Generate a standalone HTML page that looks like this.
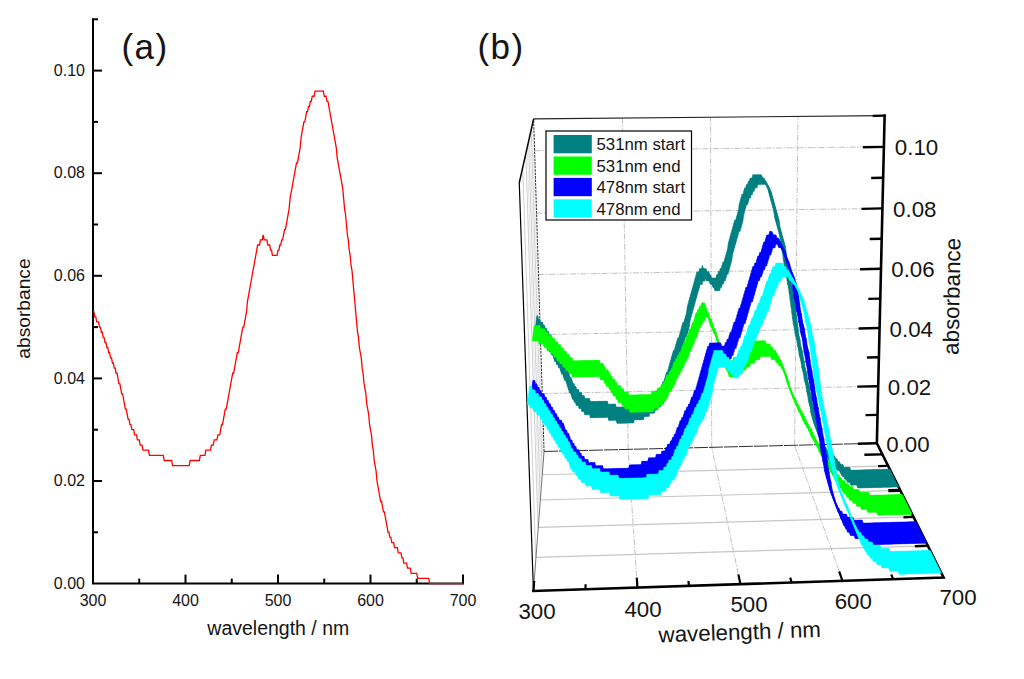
<!DOCTYPE html>
<html><head><meta charset="utf-8"><title>absorbance</title><style>html,body{margin:0;padding:0;background:#fff}body{width:1024px;height:679px;overflow:hidden}</style></head><body>
<svg width="1024" height="679" viewBox="0 0 1024 679" style="display:block" font-family="'Liberation Sans', sans-serif" fill="#111">
<rect width="1024" height="679" fill="#fff"/>
<g stroke="#000" stroke-width="2" fill="none" stroke-linecap="butt">
<path d="M93 18.3 V583.6 H464"/>
<path d="M93 532.3h5"/>
<path d="M93 481h9"/>
<path d="M93 429.7h5"/>
<path d="M93 378.4h9"/>
<path d="M93 327.1h5"/>
<path d="M93 275.8h9"/>
<path d="M93 224.5h5"/>
<path d="M93 173.2h9"/>
<path d="M93 121.9h5"/>
<path d="M93 70.6h9"/>
<path d="M93 19.3h5"/>
<path d="M139.25 583.6v-5"/>
<path d="M185.5 583.6v-9"/>
<path d="M231.75 583.6v-5"/>
<path d="M278 583.6v-9"/>
<path d="M324.25 583.6v-5"/>
<path d="M370.5 583.6v-9"/>
<path d="M416.75 583.6v-5"/>
<path d="M463 583.6v-9"/>
</g>
<g font-size="16" fill="#141414">
<text x="85" y="588.8" text-anchor="end">0.00</text>
<text x="85" y="486.2" text-anchor="end">0.02</text>
<text x="85" y="383.6" text-anchor="end">0.04</text>
<text x="85" y="281" text-anchor="end">0.06</text>
<text x="85" y="178.4" text-anchor="end">0.08</text>
<text x="85" y="75.8" text-anchor="end">0.10</text>
<text x="93" y="605.8" text-anchor="middle">300</text>
<text x="185.5" y="605.8" text-anchor="middle">400</text>
<text x="278" y="605.8" text-anchor="middle">500</text>
<text x="370.5" y="605.8" text-anchor="middle">600</text>
<text x="463" y="605.8" text-anchor="middle">700</text>
</g>
<text x="278.3" y="635.3" font-size="19.5" text-anchor="middle" fill="#141414">wavelength / nm</text>
<text transform="translate(29.5 308.5) rotate(-90)" font-size="19.2" text-anchor="middle" fill="#141414">absorbance</text>
<text x="121.5" y="58.7" font-size="35" letter-spacing="1.4" fill="#141414">(a)</text>
<text x="477.5" y="58.7" font-size="35" letter-spacing="1.4" fill="#141414">(b)</text>
<path d="M93 311.71L93.92 311.71L94.85 316.84L95.78 316.84L96.7 321.97L97.62 321.97L98.55 321.97L99.47 327.1L100.4 327.1L101.33 332.23L102.25 332.23L103.17 337.36L104.1 337.36L105.03 342.49L105.95 342.49L106.88 347.62L107.8 347.62L108.72 352.75L109.65 352.75L110.58 357.88L111.5 357.88L112.42 363.01L113.35 363.01L114.28 368.14L115.2 368.14L116.12 373.27L117.05 373.27L117.97 378.4L118.9 383.53L119.83 383.53L120.75 388.66L121.67 393.79L122.6 393.79L123.53 398.92L124.45 404.05L125.38 409.18L126.3 409.18L127.22 414.31L128.15 419.44L129.07 419.44L130 424.57L130.93 424.57L131.85 429.7L132.78 429.7L133.7 429.7L134.62 434.83L135.55 434.83L136.47 434.83L137.4 439.96L138.32 439.96L139.25 439.96L140.18 445.09L141.1 445.09L142.03 445.09L142.95 450.22L143.88 450.22L144.8 450.22L145.72 450.22L146.65 450.22L147.57 450.22L148.5 450.22L149.43 455.35L150.35 455.35L151.28 455.35L152.2 455.35L153.12 455.35L154.05 455.35L154.97 455.35L155.9 455.35L156.82 455.35L157.75 455.35L158.68 455.35L159.6 455.35L160.53 455.35L161.45 455.35L162.38 455.35L163.3 455.35L164.23 460.48L165.15 460.48L166.07 460.48L167 460.48L167.93 460.48L168.85 460.48L169.78 460.48L170.7 460.48L171.62 460.48L172.55 465.61L173.48 465.61L174.4 465.61L175.32 465.61L176.25 465.61L177.18 465.61L178.1 465.61L179.03 465.61L179.95 465.61L180.88 465.61L181.8 465.61L182.73 465.61L183.65 465.61L184.57 465.61L185.5 465.61L186.43 465.61L187.35 465.61L188.28 465.61L189.2 465.61L190.12 460.48L191.05 460.48L191.98 460.48L192.9 460.48L193.82 460.48L194.75 460.48L195.68 460.48L196.6 460.48L197.53 460.48L198.45 460.48L199.38 460.48L200.3 455.35L201.23 455.35L202.15 455.35L203.07 455.35L204 455.35L204.93 455.35L205.85 450.22L206.78 450.22L207.7 450.22L208.62 450.22L209.55 450.22L210.48 450.22L211.4 445.09L212.32 445.09L213.25 445.09L214.18 439.96L215.1 439.96L216.03 439.96L216.95 439.96L217.88 434.83L218.8 434.83L219.73 434.83L220.65 429.7L221.58 424.57L222.5 424.57L223.43 419.44L224.35 414.31L225.28 409.18L226.2 409.18L227.12 404.05L228.05 398.92L228.97 393.79L229.9 388.66L230.83 383.53L231.75 378.4L232.68 373.27L233.6 373.27L234.53 368.14L235.45 363.01L236.38 357.88L237.3 352.75L238.22 352.75L239.15 347.62L240.08 342.49L241 337.36L241.93 332.23L242.85 327.1L243.78 327.1L244.7 321.97L245.62 316.84L246.55 311.71L247.47 301.45L248.4 296.32L249.33 291.19L250.25 286.06L251.18 280.93L252.1 275.8L253.03 270.67L253.95 265.54L254.88 260.41L255.8 255.28L256.73 250.15L257.65 245.02L258.58 245.02L259.5 245.02L260.43 239.89L261.35 239.89L262.27 239.89L263.2 234.76L264.12 239.89L265.05 239.89L265.98 239.89L266.9 239.89L267.83 245.02L268.75 245.02L269.68 245.02L270.6 250.15L271.52 250.15L272.45 255.28L273.38 255.28L274.3 255.28L275.23 255.28L276.15 255.28L277.08 255.28L278 250.15L278.93 250.15L279.85 245.02L280.77 245.02L281.7 239.89L282.62 239.89L283.55 234.76L284.48 229.63L285.4 229.63L286.33 224.5L287.25 219.37L288.18 214.24L289.1 209.11L290.02 198.85L290.95 193.72L291.88 188.59L292.8 183.46L293.73 178.33L294.65 173.2L295.58 168.07L296.5 162.94L297.43 162.94L298.35 157.81L299.27 152.68L300.2 147.55L301.12 137.29L302.05 132.16L302.98 127.03L303.9 121.9L304.83 121.9L305.75 116.77L306.68 111.64L307.6 111.64L308.52 106.51L309.45 106.51L310.38 101.38L311.3 101.38L312.23 96.25L313.15 96.25L314.08 96.25L315 91.12L315.93 91.12L316.85 91.12L317.77 91.12L318.7 91.12L319.62 91.12L320.55 91.12L321.48 91.12L322.4 91.12L323.33 91.12L324.25 96.25L325.18 96.25L326.1 96.25L327.02 101.38L327.95 101.38L328.88 106.51L329.8 111.64L330.73 116.77L331.65 121.9L332.58 127.03L333.5 132.16L334.43 137.29L335.35 142.42L336.27 147.55L337.2 157.81L338.12 162.94L339.05 168.07L339.98 173.2L340.9 178.33L341.83 183.46L342.75 188.59L343.68 198.85L344.6 209.11L345.52 214.24L346.45 224.5L347.38 234.76L348.3 239.89L349.23 250.15L350.15 255.28L351.07 265.54L352 270.67L352.93 280.93L353.85 291.19L354.78 301.45L355.7 311.71L356.62 321.97L357.55 332.23L358.48 337.36L359.4 347.62L360.32 352.75L361.25 357.88L362.18 368.14L363.1 373.27L364.03 383.53L364.95 388.66L365.88 393.79L366.8 404.05L367.73 409.18L368.65 414.31L369.57 424.57L370.5 429.7L371.43 434.83L372.35 445.09L373.28 450.22L374.2 460.48L375.12 465.61L376.05 470.74L376.98 481L377.9 486.13L378.82 491.26L379.75 496.39L380.68 501.52L381.6 501.52L382.53 506.65L383.45 511.78L384.38 511.78L385.3 516.91L386.23 522.04L387.15 527.17L388.07 532.3L389 532.3L389.93 537.43L390.85 537.43L391.78 542.56L392.7 542.56L393.62 542.56L394.55 547.69L395.48 547.69L396.4 547.69L397.32 547.69L398.25 552.82L399.18 552.82L400.1 552.82L401.03 552.82L401.95 557.95L402.88 557.95L403.8 563.08L404.73 563.08L405.65 563.08L406.57 563.08L407.5 568.21L408.43 568.21L409.35 568.21L410.28 568.21L411.2 573.34L412.12 573.34L413.05 573.34L413.98 573.34L414.9 573.34L415.82 573.34L416.75 573.34L417.68 578.47L418.6 578.47L419.53 578.47L420.45 578.47L421.38 578.47L422.3 578.47L423.23 578.47L424.15 578.47L425.07 578.47L426 578.47L426.93 578.47L427.85 578.47L428.78 578.47L429.7 583.6L430.62 583.6L431.55 583.6L432.48 583.6L433.4 583.6L434.32 583.6L435.25 583.6L436.18 583.6L437.1 583.6L438.03 583.6L438.95 583.6L439.88 583.6L440.8 583.6L441.73 583.6L442.65 583.6L443.57 583.6L444.5 583.6L445.43 583.6L446.35 583.6L447.28 583.6L448.2 583.6L449.12 583.6L450.05 583.6L450.98 583.6L451.9 583.6L452.83 583.6L453.75 583.6L454.68 583.6L455.6 583.6L456.53 583.6L457.45 583.6L458.38 583.6L459.3 583.6L460.23 583.6L461.15 583.6L462.08 583.6L463 583.6" fill="none" stroke="#ff0000" stroke-width="1.3" stroke-linejoin="miter"/>
<line x1="628.21" y1="449.39" x2="622.42" y2="118.07" stroke="#c2c2c2" stroke-width="1"  stroke-dasharray="6 1.5 1.5 1.5"/>
<line x1="711.73" y1="447.33" x2="710.53" y2="117.23" stroke="#c2c2c2" stroke-width="1"  stroke-dasharray="6 1.5 1.5 1.5"/>
<line x1="794.61" y1="445.28" x2="797.93" y2="116.4" stroke="#c2c2c2" stroke-width="1"  stroke-dasharray="6 1.5 1.5 1.5"/>
<line x1="542.23" y1="393.61" x2="878.21" y2="386.21" stroke="#c2c2c2" stroke-width="1"  stroke-dasharray="6 1.5 1.5 1.5"/>
<line x1="540.38" y1="334.64" x2="879.59" y2="328.07" stroke="#c2c2c2" stroke-width="1"  stroke-dasharray="6 1.5 1.5 1.5"/>
<line x1="538.49" y1="274.51" x2="881" y2="268.82" stroke="#c2c2c2" stroke-width="1"  stroke-dasharray="6 1.5 1.5 1.5"/>
<line x1="536.56" y1="213.19" x2="882.43" y2="208.42" stroke="#c2c2c2" stroke-width="1"  stroke-dasharray="6 1.5 1.5 1.5"/>
<line x1="534.6" y1="150.66" x2="883.89" y2="146.83" stroke="#c2c2c2" stroke-width="1"  stroke-dasharray="6 1.5 1.5 1.5"/>
<line x1="637.2" y1="586.92" x2="628.21" y2="449.39" stroke="#c2c2c2" stroke-width="1"  stroke-dasharray="6 1.5 1.5 1.5"/>
<line x1="740.29" y1="583.73" x2="711.73" y2="447.33" stroke="#c2c2c2" stroke-width="1"  stroke-dasharray="6 1.5 1.5 1.5"/>
<line x1="842.42" y1="580.57" x2="794.61" y2="445.28" stroke="#c2c2c2" stroke-width="1"  stroke-dasharray="6 1.5 1.5 1.5"/>
<line x1="535.71" y1="557.38" x2="927.87" y2="545.82" stroke="#c6c6c6" stroke-width="1.2" />
<line x1="538.07" y1="527.46" x2="913.49" y2="516.91" stroke="#c6c6c6" stroke-width="1.2" />
<line x1="540.23" y1="500.02" x2="900.28" y2="490.35" stroke="#c6c6c6" stroke-width="1.2" />
<line x1="542.22" y1="474.77" x2="888.11" y2="465.88" stroke="#c6c6c6" stroke-width="1.2" />
<line x1="535.71" y1="557.38" x2="522.69" y2="167.61" stroke="#bcbcbc" stroke-width="0.7" />
<line x1="538.07" y1="527.46" x2="525.79" y2="153.76" stroke="#bcbcbc" stroke-width="0.7" />
<line x1="540.23" y1="500.02" x2="528.62" y2="141.12" stroke="#bcbcbc" stroke-width="0.7" />
<line x1="542.22" y1="474.77" x2="531.22" y2="129.55" stroke="#bcbcbc" stroke-width="0.7" />
<line x1="539.17" y1="513.45" x2="527.24" y2="147.3" stroke="#d6d6d6" stroke-width="0.6" />
<line x1="541.24" y1="487.14" x2="529.95" y2="135.21" stroke="#d6d6d6" stroke-width="0.6" />
<line x1="543.15" y1="462.89" x2="532.43" y2="124.13" stroke="#d6d6d6" stroke-width="0.6" />
<line x1="533.6" y1="118.92" x2="884.63" y2="115.58" stroke="#222" stroke-width="1.1" />
<line x1="544.05" y1="451.46" x2="876.86" y2="443.25" stroke="#303030" stroke-width="1.0" stroke-dasharray="14 1"/>
<line x1="544.05" y1="451.46" x2="533.6" y2="118.92" stroke="#333" stroke-width="1.0" stroke-dasharray="2.5 1"/>
<line x1="519.27" y1="182.87" x2="533.6" y2="118.92" stroke="#000" stroke-width="1.5" />
<line x1="533.43" y1="590.99" x2="519.27" y2="182.87" stroke="#000" stroke-width="1.2" />
<line x1="533.43" y1="590.99" x2="544.05" y2="451.46" stroke="#555" stroke-width="0.8" />
<path d="M533.43 590.99L943.59 577.43L876.86 443.25L884.63 115.58" fill="none" stroke="#000" stroke-width="2.6" stroke-linejoin="miter" stroke-linecap="square"/>
<line x1="877.53" y1="414.86" x2="865.53" y2="415.13" stroke="#000" stroke-width="2.4" />
<line x1="878.21" y1="386.21" x2="857.21" y2="386.67" stroke="#000" stroke-width="2.4" />
<line x1="878.9" y1="357.28" x2="866.9" y2="357.54" stroke="#000" stroke-width="2.4" />
<line x1="879.59" y1="328.07" x2="858.59" y2="328.54" stroke="#000" stroke-width="2.4" />
<line x1="880.29" y1="298.59" x2="868.29" y2="298.85" stroke="#000" stroke-width="2.4" />
<line x1="881" y1="268.82" x2="860" y2="269.28" stroke="#000" stroke-width="2.4" />
<line x1="881.71" y1="238.77" x2="869.71" y2="239.03" stroke="#000" stroke-width="2.4" />
<line x1="882.43" y1="208.42" x2="861.43" y2="208.88" stroke="#000" stroke-width="2.4" />
<line x1="883.15" y1="177.77" x2="871.15" y2="178.04" stroke="#000" stroke-width="2.4" />
<line x1="883.89" y1="146.83" x2="862.89" y2="147.29" stroke="#000" stroke-width="2.4" />
<line x1="884.63" y1="115.58" x2="872.63" y2="115.84" stroke="#000" stroke-width="2.4" />
<line x1="533.43" y1="590.99" x2="534.19" y2="581.02" stroke="#000" stroke-width="2.2" />
<line x1="585.55" y1="589.27" x2="585.58" y2="584.27" stroke="#000" stroke-width="2.2" />
<line x1="637.43" y1="587.56" x2="636.76" y2="577.58" stroke="#000" stroke-width="2.2" />
<line x1="689.06" y1="585.85" x2="688.37" y2="580.9" stroke="#000" stroke-width="2.2" />
<line x1="740.44" y1="584.15" x2="738.39" y2="574.37" stroke="#000" stroke-width="2.2" />
<line x1="791.59" y1="582.46" x2="790.23" y2="577.65" stroke="#000" stroke-width="2.2" />
<line x1="842.49" y1="580.78" x2="839.16" y2="571.35" stroke="#000" stroke-width="2.2" />
<line x1="893.16" y1="579.1" x2="891.2" y2="574.5" stroke="#000" stroke-width="2.2" />
<line x1="876.86" y1="443.25" x2="857.86" y2="443.72" stroke="#000" stroke-width="2.4" />
<line x1="882.38" y1="454.35" x2="864.38" y2="454.8" stroke="#000" stroke-width="2.4" />
<line x1="888.11" y1="465.88" x2="878.11" y2="466.13" stroke="#000" stroke-width="2.4" />
<line x1="900.28" y1="490.35" x2="888.29" y2="490.67" stroke="#000" stroke-width="3.4" />
<line x1="913.49" y1="516.91" x2="903.49" y2="517.19" stroke="#000" stroke-width="2.4" />
<line x1="927.87" y1="545.82" x2="914.88" y2="546.21" stroke="#000" stroke-width="2.4" />
<path d="M535.12 329.64L536.06 329.63L537.67 315.81L536.76 315.82ZM536.06 329.63L537.1 332.84L538.68 318.93L537.67 315.81ZM537.1 332.84L538.03 332.82L539.58 318.92L538.68 318.93ZM538.03 332.82L539.07 336.04L540.59 322.04L539.58 318.92ZM539.07 336.04L540 336.02L541.5 322.02L540.59 322.04ZM540 336.02L540.94 336L542.4 322.01L541.5 322.02ZM540.94 336L541.97 339.21L543.41 325.13L542.4 322.01ZM541.97 339.21L542.9 339.19L544.31 325.11L543.41 325.13ZM542.9 339.19L543.94 342.39L545.31 328.23L544.31 325.11ZM543.94 342.39L544.87 342.38L546.22 328.21L545.31 328.23ZM544.87 342.38L545.9 345.58L547.22 331.32L546.22 328.21ZM545.9 345.58L546.83 345.56L548.12 331.31L547.22 331.32ZM546.83 345.56L547.86 348.76L549.12 334.42L548.12 331.31ZM547.86 348.76L548.8 348.74L550.02 334.4L549.12 334.42ZM548.8 348.74L549.82 351.93L551.02 337.51L550.02 334.4ZM549.82 351.93L550.75 351.91L551.92 337.49L551.02 337.51ZM550.75 351.91L551.78 355.1L552.92 340.59L551.92 337.49ZM551.78 355.1L552.71 355.08L553.82 340.57L552.92 340.59ZM552.71 355.08L553.73 358.27L554.81 343.67L553.82 340.57ZM553.73 358.27L554.76 361.45L555.81 346.77L554.81 343.67ZM554.76 361.45L555.69 361.43L556.71 346.75L555.81 346.77ZM555.69 361.43L556.71 364.61L557.7 349.84L556.71 346.75ZM556.71 364.61L557.64 364.59L558.6 349.82L557.7 349.84ZM557.64 364.59L558.66 367.77L559.59 352.91L558.6 349.82ZM558.66 367.77L559.58 367.75L560.49 352.89L559.59 352.91ZM559.58 367.75L560.6 370.92L561.48 355.98L560.49 352.89ZM560.6 370.92L561.62 374.08L562.46 359.06L561.48 355.98ZM561.62 374.08L562.55 374.07L563.36 359.04L562.46 359.06ZM562.55 374.07L563.56 377.23L564.35 362.12L563.36 359.04ZM563.56 377.23L564.57 380.39L565.33 365.2L564.35 362.12ZM564.57 380.39L565.5 380.37L566.23 365.18L565.33 365.2ZM565.5 380.37L566.51 383.53L567.21 368.25L566.23 365.18ZM566.51 383.53L567.52 386.68L568.19 371.32L567.21 368.25ZM567.52 386.68L568.53 389.83L569.17 374.38L568.19 371.32ZM568.53 389.83L569.54 392.97L570.15 377.44L569.17 374.38ZM569.54 392.97L570.47 392.95L571.05 377.43L570.15 377.44ZM570.47 392.95L571.47 396.1L572.02 380.48L571.05 377.43ZM571.47 396.1L572.48 399.24L573 383.54L572.02 380.48ZM572.48 399.24L573.4 399.21L573.89 383.52L573 383.54ZM573.4 399.21L574.41 402.35L574.87 386.57L573.89 383.52ZM574.41 402.35L575.33 402.33L575.76 386.55L574.87 386.57ZM575.33 402.33L576.33 405.46L576.74 389.6L575.76 386.55ZM576.33 405.46L577.25 405.44L577.63 389.58L576.74 389.6ZM577.25 405.44L578.17 405.42L578.52 389.56L577.63 389.58ZM578.17 405.42L579.17 408.55L579.49 392.6L578.52 389.56ZM579.17 408.55L580.09 408.53L580.39 392.58L579.49 392.6ZM580.09 408.53L581.01 408.51L581.28 392.57L580.39 392.58ZM581.01 408.51L582.01 411.63L582.25 395.61L581.28 392.57ZM582.01 411.63L582.93 411.61L583.14 395.59L582.25 395.61ZM582.93 411.61L583.85 411.59L584.03 395.57L583.14 395.59ZM583.85 411.59L584.84 414.71L585 398.6L584.03 395.57ZM584.84 414.71L585.76 414.69L585.89 398.58L585 398.6ZM585.76 414.69L586.68 414.66L586.78 398.56L585.89 398.58ZM586.68 414.66L587.6 414.64L587.67 398.54L586.78 398.56ZM587.6 414.64L588.52 414.62L588.56 398.52L587.67 398.54ZM588.52 414.62L589.43 414.6L589.45 398.5L588.56 398.52ZM589.43 414.6L590.43 417.72L590.42 401.54L589.45 398.5ZM590.43 417.72L591.34 417.7L591.31 401.52L590.42 401.54ZM591.34 417.7L592.26 417.68L592.2 401.5L591.31 401.52ZM592.26 417.68L593.18 417.65L593.09 401.48L592.2 401.5ZM593.18 417.65L594.1 417.63L593.98 401.46L593.09 401.48ZM594.1 417.63L595.01 417.61L594.87 401.44L593.98 401.46ZM595.01 417.61L595.93 417.59L595.76 401.42L594.87 401.44ZM595.93 417.59L596.85 417.57L596.65 401.4L595.76 401.42ZM596.85 417.57L597.76 417.55L597.54 401.38L596.65 401.4ZM597.76 417.55L598.68 417.53L598.43 401.36L597.54 401.38ZM598.68 417.53L599.6 417.51L599.32 401.34L598.43 401.36ZM599.6 417.51L600.51 417.48L600.21 401.32L599.32 401.34ZM600.51 417.48L601.43 417.46L601.1 401.3L600.21 401.32ZM601.43 417.46L602.35 417.44L601.99 401.28L601.1 401.3ZM602.35 417.44L603.26 417.42L602.88 401.26L601.99 401.28ZM603.26 417.42L604.18 417.4L603.77 401.24L602.88 401.26ZM604.18 417.4L605.1 417.38L604.66 401.22L603.77 401.24ZM605.1 417.38L606.01 417.36L605.55 401.2L604.66 401.22ZM606.01 417.36L606.93 417.34L606.44 401.18L605.55 401.2ZM606.93 417.34L607.85 417.31L607.33 401.16L606.44 401.18ZM607.85 417.31L608.83 420.42L608.28 404.19L607.33 401.16ZM608.83 420.42L609.74 420.4L609.17 404.17L608.28 404.19ZM609.74 420.4L610.66 420.38L610.05 404.15L609.17 404.17ZM610.66 420.38L611.57 420.36L610.94 404.13L610.05 404.15ZM611.57 420.36L612.49 420.34L611.83 404.11L610.94 404.13ZM612.49 420.34L613.4 420.32L612.72 404.09L611.83 404.11ZM613.4 420.32L614.32 420.3L613.61 404.07L612.72 404.09ZM614.32 420.3L615.23 420.28L614.5 404.05L613.61 404.07ZM615.23 420.28L616.15 420.25L615.38 404.03L614.5 404.05ZM616.15 420.25L617.12 423.36L616.33 407.05L615.38 404.03ZM617.12 423.36L618.04 423.34L617.22 407.03L616.33 407.05ZM618.04 423.34L618.95 423.32L618.11 407.01L617.22 407.03ZM618.95 423.32L619.87 423.3L618.99 406.99L618.11 407.01ZM619.87 423.3L620.78 423.27L619.88 406.97L618.99 406.99ZM620.78 423.27L621.69 423.25L620.77 406.95L619.88 406.97ZM621.69 423.25L622.61 423.23L621.66 406.93L620.77 406.95ZM622.61 423.23L623.52 423.21L622.54 406.91L621.66 406.93ZM623.52 423.21L624.43 423.19L623.43 406.89L622.54 406.91ZM624.43 423.19L625.35 423.17L624.32 406.87L623.43 406.89ZM625.35 423.17L626.26 423.15L625.2 406.85L624.32 406.87ZM626.26 423.15L627.18 423.12L626.09 406.83L625.2 406.85ZM627.18 423.12L628.09 423.1L626.98 406.81L626.09 406.83ZM628.09 423.1L629 423.08L627.86 406.79L626.98 406.81ZM629 423.08L629.92 423.06L628.75 406.77L627.86 406.79ZM629.92 423.06L630.83 423.04L629.64 406.75L628.75 406.77ZM630.83 423.04L631.74 423.02L630.52 406.73L629.64 406.75ZM631.74 423.02L632.66 423L631.41 406.71L630.52 406.73ZM632.66 423L633.57 422.97L632.3 406.69L631.41 406.71ZM633.57 422.97L634.43 419.83L633.13 403.63L632.3 406.69ZM634.43 419.83L635.34 419.81L634.02 403.61L633.13 403.63ZM635.34 419.81L636.26 419.78L634.91 403.59L634.02 403.61ZM636.26 419.78L637.17 419.76L635.79 403.57L634.91 403.59ZM637.17 419.76L638.08 419.74L636.68 403.55L635.79 403.57ZM638.08 419.74L639 419.72L637.56 403.53L636.68 403.55ZM639 419.72L639.91 419.7L638.45 403.51L637.56 403.53ZM639.91 419.7L640.82 419.68L639.34 403.49L638.45 403.51ZM640.82 419.68L641.73 419.66L640.22 403.47L639.34 403.49ZM641.73 419.66L642.65 419.64L641.11 403.45L640.22 403.47ZM642.65 419.64L643.56 419.61L642 403.43L641.11 403.45ZM643.56 419.61L644.43 416.47L642.84 400.36L642 403.43ZM644.43 416.47L645.34 416.45L643.72 400.34L642.84 400.36ZM645.34 416.45L646.25 416.42L644.61 400.32L643.72 400.34ZM646.25 416.42L647.17 416.4L645.49 400.3L644.61 400.32ZM647.17 416.4L648.08 416.38L646.38 400.28L645.49 400.3ZM648.08 416.38L648.99 416.36L647.27 400.26L646.38 400.28ZM648.99 416.36L649.86 413.21L648.11 397.2L647.27 400.26ZM649.86 413.21L650.77 413.19L649 397.18L648.11 397.2ZM650.77 413.19L651.69 413.17L649.88 397.16L649 397.18ZM651.69 413.17L652.6 413.15L650.77 397.14L649.88 397.16ZM652.6 413.15L653.51 413.13L651.65 397.12L650.77 397.14ZM653.51 413.13L654.42 413.1L652.54 397.1L651.65 397.12ZM654.42 413.1L655.3 409.95L653.39 394.03L652.54 397.1ZM655.3 409.95L656.21 409.93L654.27 394.01L653.39 394.03ZM656.21 409.93L657.12 409.91L655.16 393.99L654.27 394.01ZM657.12 409.91L658 406.75L656.01 390.92L655.16 393.99ZM658 406.75L658.91 406.73L656.89 390.9L656.01 390.92ZM658.91 406.73L659.82 406.71L657.78 390.88L656.89 390.9ZM659.82 406.71L660.74 406.69L658.67 390.86L657.78 390.88ZM660.74 406.69L661.61 403.53L659.51 387.79L658.67 390.86ZM661.61 403.53L662.53 403.51L660.4 387.77L659.51 387.79ZM662.53 403.51L663.44 403.49L661.29 387.75L660.4 387.77ZM663.44 403.49L664.32 400.33L662.14 384.67L661.29 387.75ZM664.32 400.33L665.19 397.17L662.99 381.59L662.14 384.67ZM665.19 397.17L666.11 397.15L663.88 381.58L662.99 381.59ZM666.11 397.15L666.99 393.98L664.73 378.49L663.88 381.58ZM666.99 393.98L667.87 390.81L665.58 375.41L664.73 378.49ZM667.87 390.81L668.75 387.64L666.44 372.32L665.58 375.41ZM668.75 387.64L669.66 387.62L667.33 372.3L666.44 372.32ZM669.66 387.62L670.55 384.44L668.18 369.21L667.33 372.3ZM670.55 384.44L671.43 381.26L669.04 366.12L668.18 369.21ZM671.43 381.26L672.31 378.08L669.89 363.03L669.04 366.12ZM672.31 378.08L673.2 374.89L670.75 359.93L669.89 363.03ZM673.2 374.89L674.09 371.71L671.61 356.83L670.75 359.93ZM674.09 371.71L674.97 368.51L672.47 353.72L671.61 356.83ZM674.97 368.51L675.86 365.32L673.33 350.62L672.47 353.72ZM675.86 365.32L676.78 365.3L674.22 350.6L673.33 350.62ZM676.78 365.3L677.67 362.1L675.08 347.49L674.22 350.6ZM677.67 362.1L678.56 358.9L675.95 344.38L675.08 347.49ZM678.56 358.9L679.45 355.7L676.81 341.26L675.95 344.38ZM679.45 355.7L680.34 352.49L677.67 338.14L676.81 341.26ZM680.34 352.49L681.26 352.48L678.56 338.12L677.67 338.14ZM681.26 352.48L682.15 349.27L679.43 335L678.56 338.12ZM682.15 349.27L683.04 346.05L680.29 331.88L679.43 335ZM683.04 346.05L683.94 342.84L681.16 328.75L680.29 331.88ZM683.94 342.84L684.83 339.62L682.03 325.62L681.16 328.75ZM684.83 339.62L685.73 336.4L682.9 322.49L682.03 325.62ZM685.73 336.4L686.65 336.38L683.79 322.47L682.9 322.49ZM686.65 336.38L687.55 333.16L684.66 319.34L683.79 322.47ZM687.55 333.16L688.44 329.93L685.53 316.2L684.66 319.34ZM688.44 329.93L689.34 326.7L686.4 313.06L685.53 316.2ZM689.34 326.7L690.22 320.24L687.25 306.78L686.4 313.06ZM690.22 320.24L691.12 317L688.12 303.63L687.25 306.78ZM691.12 317L692.02 313.76L689 300.48L688.12 303.63ZM692.02 313.76L692.93 310.51L689.87 297.32L689 300.48ZM692.93 310.51L693.83 307.26L690.75 294.16L689.87 297.32ZM693.83 307.26L694.74 304.01L691.62 291L690.75 294.16ZM694.74 304.01L695.64 300.76L692.5 287.84L691.62 291ZM695.64 300.76L696.55 297.5L693.38 284.67L692.5 287.84ZM696.55 297.5L697.45 294.23L694.26 281.5L693.38 284.67ZM697.45 294.23L698.36 290.97L695.14 278.32L694.26 281.5ZM698.36 290.97L699.27 287.7L696.02 275.15L695.14 278.32ZM699.27 287.7L700.18 284.43L696.9 271.97L696.02 275.15ZM700.18 284.43L701.11 284.41L697.8 271.95L696.9 271.97ZM701.11 284.41L702.04 284.4L698.7 271.94L697.8 271.95ZM702.04 284.4L702.95 281.12L699.58 268.76L698.7 271.94ZM702.95 281.12L703.88 281.11L700.48 268.74L699.58 268.76ZM703.88 281.11L704.8 281.09L701.38 268.73L700.48 268.74ZM704.8 281.09L705.72 277.81L702.27 265.54L701.38 268.73ZM705.72 277.81L706.66 281.06L703.18 268.7L702.27 265.54ZM706.66 281.06L707.59 281.04L704.08 268.68L703.18 268.7ZM707.59 281.04L708.52 281.03L704.98 268.67L704.08 268.68ZM708.52 281.03L709.44 281.01L705.88 268.65L704.98 268.67ZM709.44 281.01L710.38 284.25L706.8 271.8L705.88 268.65ZM710.38 284.25L711.31 284.24L707.7 271.79L706.8 271.8ZM711.31 284.24L712.24 284.22L708.6 271.77L707.7 271.79ZM712.24 284.22L713.17 287.46L709.51 274.92L708.6 271.77ZM713.17 287.46L714.1 287.44L710.41 274.91L709.51 274.92ZM714.1 287.44L715.04 290.68L711.32 278.05L710.41 274.91ZM715.04 290.68L715.96 290.66L712.22 278.04L711.32 278.05ZM715.96 290.66L716.89 290.65L713.11 278.02L712.22 278.04ZM716.89 290.65L717.81 290.63L714.01 278.01L713.11 278.02ZM717.81 290.63L718.74 290.61L714.91 277.99L714.01 278.01ZM718.74 290.61L719.66 290.6L715.81 277.98L714.91 277.99ZM719.66 290.6L720.58 287.33L716.7 274.8L715.81 277.98ZM720.58 287.33L721.51 287.32L717.59 274.79L716.7 274.8ZM721.51 287.32L722.43 284.05L718.49 271.61L717.59 274.79ZM722.43 284.05L723.35 284.03L719.38 271.59L718.49 271.61ZM723.35 284.03L724.28 280.76L720.28 268.41L719.38 271.59ZM724.28 280.76L725.2 280.74L721.17 268.4L720.28 268.41ZM725.2 280.74L726.12 277.47L722.07 265.22L721.17 268.4ZM726.12 277.47L727.05 274.19L722.96 262.03L722.07 265.22ZM727.05 274.19L727.97 274.18L723.86 262.02L722.96 262.03ZM727.97 274.18L728.9 270.9L724.76 258.83L723.86 262.02ZM728.9 270.9L729.82 267.61L725.65 255.64L724.76 258.83ZM729.82 267.61L730.75 264.32L726.55 252.44L725.65 255.64ZM730.75 264.32L731.68 261.03L727.45 249.25L726.55 252.44ZM731.68 261.03L732.6 254.46L728.34 242.86L727.45 249.25ZM732.6 254.46L733.53 251.16L729.24 239.65L728.34 242.86ZM733.53 251.16L734.46 247.86L730.14 236.44L729.24 239.65ZM734.46 247.86L735.4 244.55L731.04 233.23L730.14 236.44ZM735.4 244.55L736.33 241.24L731.94 230.01L731.04 233.23ZM736.33 241.24L737.26 237.93L732.85 226.79L731.94 230.01ZM737.26 237.93L738.19 234.61L733.75 223.57L732.85 226.79ZM738.19 234.61L739.13 231.29L734.66 220.35L733.75 223.57ZM739.13 231.29L740.06 231.28L735.56 220.33L734.66 220.35ZM740.06 231.28L741 227.96L736.47 217.11L735.56 220.33ZM741 227.96L741.94 224.63L737.37 213.87L736.47 217.11ZM741.94 224.63L742.87 221.3L738.28 210.64L737.37 213.87ZM742.87 221.3L743.82 214.65L739.19 204.18L738.28 210.64ZM743.82 214.65L744.76 211.31L740.1 200.93L739.19 204.18ZM744.76 211.31L745.7 207.97L741.01 197.69L740.1 200.93ZM745.7 207.97L746.64 204.62L741.92 194.44L741.01 197.69ZM746.64 204.62L747.58 204.61L742.83 194.43L741.92 194.44ZM747.58 204.61L748.52 201.26L743.74 191.17L742.83 194.43ZM748.52 201.26L749.46 197.91L744.66 187.92L743.74 191.17ZM749.46 197.91L750.4 197.9L745.57 187.91L744.66 187.92ZM750.4 197.9L751.35 194.54L746.48 184.65L745.57 187.91ZM751.35 194.54L752.28 194.53L747.39 184.64L746.48 184.65ZM752.28 194.53L753.23 191.17L748.31 181.38L747.39 184.64ZM753.23 191.17L754.17 191.16L749.22 181.36L748.31 181.38ZM754.17 191.16L755.12 187.8L750.13 178.1L749.22 181.36ZM755.12 187.8L756.05 187.79L751.04 178.09L750.13 178.1ZM756.05 187.79L756.99 187.78L751.95 178.08L751.04 178.09ZM756.99 187.78L757.94 184.41L752.87 174.81L751.95 178.08ZM757.94 184.41L758.88 184.4L753.78 174.8L752.87 174.81ZM758.88 184.4L759.82 184.39L754.69 174.79L753.78 174.8ZM759.82 184.39L760.75 184.38L755.6 174.78L754.69 174.79ZM760.75 184.38L761.69 184.36L756.51 174.77L755.6 174.78ZM761.69 184.36L762.63 184.35L757.42 174.76L756.51 174.77ZM762.63 184.35L763.57 184.34L758.33 174.74L757.42 174.76ZM763.57 184.34L764.5 184.33L759.24 174.73L758.33 174.74ZM764.5 184.33L765.44 184.32L760.15 174.72L759.24 174.73ZM765.44 184.32L766.38 184.3L761.05 174.71L760.15 174.72ZM766.38 184.3L767.3 187.64L761.95 177.95L761.05 174.71ZM767.3 187.64L768.23 187.63L762.86 177.94L761.95 177.95ZM768.23 187.63L769.17 187.62L763.77 177.93L762.86 177.94ZM769.17 187.62L770.09 190.95L764.66 181.17L763.77 177.93ZM770.09 190.95L771.02 190.94L765.57 181.16L764.66 181.17ZM771.02 190.94L771.94 194.27L766.46 184.4L765.57 181.16ZM771.94 194.27L772.85 197.6L767.35 187.63L766.46 184.4ZM772.85 197.6L773.77 200.92L768.23 190.86L767.35 187.63ZM773.77 200.92L774.68 204.24L769.12 194.08L768.23 190.86ZM774.68 204.24L775.59 207.56L770.01 197.3L769.12 194.08ZM775.59 207.56L776.5 210.87L770.89 200.52L770.01 197.3ZM776.5 210.87L777.41 214.18L771.78 203.74L770.89 200.52ZM777.41 214.18L778.32 217.48L772.66 206.95L771.78 203.74ZM778.32 217.48L779.22 220.78L773.55 210.15L772.66 206.95ZM779.22 220.78L780.1 227.38L774.41 216.57L773.55 210.15ZM780.1 227.38L781.01 230.67L775.29 219.77L774.41 216.57ZM781.01 230.67L781.91 233.96L776.17 222.96L775.29 219.77ZM781.91 233.96L782.81 237.24L777.05 226.15L776.17 222.96ZM782.81 237.24L783.71 240.52L777.92 229.33L777.05 226.15ZM783.71 240.52L784.61 243.79L778.8 232.52L777.92 229.33ZM784.61 243.79L785.51 247.06L779.67 235.7L778.8 232.52ZM785.51 247.06L786.38 253.61L780.53 242.06L779.67 235.7ZM786.38 253.61L787.25 260.14L781.37 248.4L780.53 242.06ZM787.25 260.14L788.15 263.39L782.25 251.57L781.37 248.4ZM788.15 263.39L789.01 269.9L783.09 257.89L782.25 251.57ZM789.01 269.9L789.88 276.39L783.94 264.21L783.09 257.89ZM789.88 276.39L790.77 279.63L784.8 267.35L783.94 264.21ZM790.77 279.63L791.63 286.1L785.64 273.65L784.8 267.35ZM791.63 286.1L792.52 289.32L786.51 276.78L785.64 273.65ZM792.52 289.32L793.37 295.78L787.35 283.05L786.51 276.78ZM793.37 295.78L794.26 298.99L788.21 286.18L787.35 283.05ZM794.26 298.99L795.11 305.42L789.05 292.43L788.21 286.18ZM795.11 305.42L795.96 311.84L789.88 298.67L789.05 292.43ZM795.96 311.84L796.81 318.24L790.71 304.9L789.88 298.67ZM796.81 318.24L797.66 324.63L791.54 311.12L790.71 304.9ZM797.66 324.63L798.51 331L792.37 317.32L791.54 311.12ZM798.51 331L799.35 337.36L793.19 323.51L792.37 317.32ZM799.35 337.36L800.23 340.53L794.05 326.59L793.19 323.51ZM800.23 340.53L801.07 346.87L794.87 332.76L794.05 326.59ZM801.07 346.87L801.94 350.03L795.72 335.83L794.87 332.76ZM801.94 350.03L802.82 353.18L796.57 338.89L795.72 335.83ZM802.82 353.18L803.65 359.49L797.39 345.04L796.57 338.89ZM803.65 359.49L804.52 362.64L798.24 348.09L797.39 345.04ZM804.52 362.64L805.36 368.93L799.05 354.22L798.24 348.09ZM805.36 368.93L806.23 372.06L799.9 357.27L799.05 354.22ZM806.23 372.06L807.09 375.19L800.75 360.31L799.9 357.27ZM807.09 375.19L807.92 381.45L801.56 366.41L800.75 360.31ZM807.92 381.45L808.79 384.57L802.4 369.44L801.56 366.41ZM808.79 384.57L809.65 387.69L803.24 372.48L802.4 369.44ZM809.65 387.69L810.48 393.92L804.05 378.55L803.24 372.48ZM810.48 393.92L811.34 397.03L804.89 381.57L804.05 378.55ZM811.34 397.03L812.2 400.13L805.73 384.59L804.89 381.57ZM812.2 400.13L813.02 406.34L806.53 390.64L805.73 384.59ZM813.02 406.34L813.88 409.43L807.37 393.65L806.53 390.64ZM813.88 409.43L814.69 415.62L808.17 399.67L807.37 393.65ZM814.69 415.62L815.55 418.7L809 402.67L808.17 399.67ZM815.55 418.7L816.41 421.78L809.84 405.67L809 402.67ZM816.41 421.78L817.22 427.95L810.63 411.67L809.84 405.67ZM817.22 427.95L818.07 431.01L811.46 414.66L810.63 411.67ZM818.07 431.01L818.92 434.08L812.3 417.64L811.46 414.66ZM818.92 434.08L819.77 437.14L813.13 420.62L812.3 417.64ZM819.77 437.14L820.62 440.19L813.96 423.6L813.13 420.62ZM820.62 440.19L821.52 440.17L814.82 423.58L813.96 423.6ZM821.52 440.17L822.37 443.23L815.65 426.55L814.82 423.58ZM822.37 443.23L823.22 446.28L816.48 429.53L815.65 426.55ZM823.22 446.28L824.11 446.25L817.35 429.5L816.48 429.53ZM824.11 446.25L824.96 449.3L818.17 432.47L817.35 429.5ZM824.96 449.3L825.8 452.34L819 435.44L818.17 432.47ZM825.8 452.34L826.65 455.38L819.82 438.4L819 435.44ZM826.65 455.38L827.49 458.42L820.64 441.36L819.82 438.4ZM827.49 458.42L828.38 458.4L821.51 441.33L820.64 441.36ZM828.38 458.4L829.22 461.43L822.33 444.29L821.51 441.33ZM829.22 461.43L830.11 461.41L823.2 444.27L822.33 444.29ZM830.11 461.41L830.95 464.44L824.02 447.22L823.2 444.27ZM830.95 464.44L831.84 464.42L824.88 447.2L824.02 447.22ZM831.84 464.42L832.73 464.39L825.74 447.18L824.88 447.2ZM832.73 464.39L833.57 467.42L826.56 450.12L825.74 447.18ZM833.57 467.42L834.46 467.4L827.43 450.1L826.56 450.12ZM834.46 467.4L835.35 467.37L828.29 450.08L827.43 450.1ZM835.35 467.37L836.24 467.35L829.15 450.06L828.29 450.08ZM836.24 467.35L837.08 470.37L829.97 453L829.15 450.06ZM837.08 470.37L837.96 470.35L830.83 452.98L829.97 453ZM837.96 470.35L838.85 470.33L831.7 452.96L830.83 452.98ZM838.85 470.33L839.74 470.3L832.56 452.94L831.7 452.96ZM839.74 470.3L840.57 473.32L833.37 455.88L832.56 452.94ZM840.57 473.32L841.46 473.3L834.24 455.86L833.37 455.88ZM841.46 473.3L842.29 476.31L835.05 458.8L834.24 455.86ZM842.29 476.31L843.18 476.29L835.91 458.78L835.05 458.8ZM843.18 476.29L844.07 476.27L836.77 458.75L835.91 458.78ZM844.07 476.27L844.9 479.28L837.58 461.69L836.77 458.75ZM844.9 479.28L845.78 479.26L838.44 461.67L837.58 461.69ZM845.78 479.26L846.67 479.23L839.3 461.64L838.44 461.67ZM846.67 479.23L847.5 482.24L840.11 464.58L839.3 461.64ZM847.5 482.24L848.39 482.22L840.97 464.55L840.11 464.58ZM848.39 482.22L849.27 482.2L841.83 464.53L840.97 464.55ZM849.27 482.2L850.16 482.17L842.69 464.51L841.83 464.53ZM850.16 482.17L850.98 485.18L843.5 467.44L842.69 464.51ZM850.98 485.18L851.87 485.15L844.36 467.42L843.5 467.44ZM851.87 485.15L852.75 485.13L845.22 467.39L844.36 467.42ZM852.75 485.13L853.64 485.11L846.08 467.37L845.22 467.39ZM853.64 485.11L854.52 485.08L846.94 467.35L846.08 467.37ZM854.52 485.08L855.41 485.06L847.8 467.33L846.94 467.35ZM855.41 485.06L856.29 485.04L848.66 467.31L847.8 467.33ZM856.29 485.04L857.17 485.01L849.52 467.28L848.66 467.31ZM857.17 485.01L858 488.01L850.32 470.21L849.52 467.28ZM858 488.01L858.88 487.99L851.18 470.19L850.32 470.21ZM858.88 487.99L859.76 487.97L852.04 470.16L851.18 470.19ZM859.76 487.97L860.65 487.94L852.9 470.14L852.04 470.16ZM860.65 487.94L861.53 487.92L853.75 470.12L852.9 470.14ZM861.53 487.92L862.42 487.9L854.61 470.1L853.75 470.12ZM862.42 487.9L863.3 487.87L855.47 470.07L854.61 470.1ZM863.3 487.87L864.18 487.85L856.33 470.05L855.47 470.07ZM864.18 487.85L865.07 487.82L857.19 470.03L856.33 470.05ZM865.07 487.82L865.95 487.8L858.05 470.01L857.19 470.03ZM865.95 487.8L866.83 487.78L858.91 469.99L858.05 470.01ZM866.83 487.78L867.72 487.75L859.76 469.96L858.91 469.99ZM867.72 487.75L868.6 487.73L860.62 469.94L859.76 469.96ZM868.6 487.73L869.48 487.71L861.48 469.92L860.62 469.94ZM869.48 487.71L870.36 487.68L862.34 469.9L861.48 469.92ZM870.36 487.68L871.25 487.66L863.2 469.87L862.34 469.9ZM871.25 487.66L872.13 487.64L864.05 469.85L863.2 469.87ZM872.13 487.64L873.01 487.61L864.91 469.83L864.05 469.85ZM873.01 487.61L873.9 487.59L865.77 469.81L864.91 469.83ZM873.9 487.59L874.78 487.56L866.63 469.79L865.77 469.81ZM874.78 487.56L875.66 487.54L867.48 469.76L866.63 469.79ZM875.66 487.54L876.54 487.52L868.34 469.74L867.48 469.76ZM876.54 487.52L877.43 487.49L869.2 469.72L868.34 469.74ZM877.43 487.49L878.31 487.47L870.06 469.7L869.2 469.72ZM878.31 487.47L879.19 487.45L870.91 469.67L870.06 469.7ZM879.19 487.45L880.07 487.42L871.77 469.65L870.91 469.67ZM880.07 487.42L880.95 487.4L872.63 469.63L871.77 469.65ZM880.95 487.4L881.84 487.38L873.48 469.61L872.63 469.63ZM881.84 487.38L882.72 487.35L874.34 469.59L873.48 469.61ZM882.72 487.35L883.6 487.33L875.2 469.56L874.34 469.59ZM883.6 487.33L884.48 487.31L876.06 469.54L875.2 469.56ZM884.48 487.31L885.36 487.28L876.91 469.52L876.06 469.54ZM885.36 487.28L886.24 487.26L877.77 469.5L876.91 469.52ZM886.24 487.26L887.13 487.24L878.63 469.47L877.77 469.5ZM887.13 487.24L888.01 487.21L879.48 469.45L878.63 469.47ZM888.01 487.21L888.89 487.19L880.34 469.43L879.48 469.45ZM888.89 487.19L889.77 487.16L881.2 469.41L880.34 469.43ZM889.77 487.16L890.65 487.14L882.05 469.39L881.2 469.41ZM890.65 487.14L891.53 487.12L882.91 469.36L882.05 469.39ZM891.53 487.12L892.41 487.09L883.76 469.34L882.91 469.36ZM892.41 487.09L893.3 487.07L884.62 469.32L883.76 469.34ZM893.3 487.07L894.18 487.05L885.48 469.3L884.62 469.32ZM894.18 487.05L895.06 487.02L886.33 469.28L885.48 469.3ZM895.06 487.02L895.94 487L887.19 469.25L886.33 469.28ZM895.94 487L896.82 486.98L888.04 469.23L887.19 469.25ZM896.82 486.98L897.7 486.95L888.9 469.21L888.04 469.23ZM897.7 486.95L898.58 486.93L889.76 469.19L888.9 469.21Z" fill="#008080" stroke="#008080" stroke-width="0.5" stroke-linejoin="round"/>
<path d="M532.25 340.89L533.23 340.87L535.05 325.66L534.11 325.68ZM533.23 340.87L534.21 340.85L536 325.64L535.05 325.66ZM534.21 340.85L535.19 340.83L536.95 325.62L536 325.64ZM535.19 340.83L536.17 340.81L537.9 325.61L536.95 325.62ZM536.17 340.81L537.15 340.79L538.85 325.59L537.9 325.61ZM537.15 340.79L538.13 340.77L539.8 325.57L538.85 325.59ZM538.13 340.77L539.22 344.13L540.85 328.83L539.8 325.57ZM539.22 344.13L540.2 344.11L541.8 328.81L540.85 328.83ZM540.2 344.11L541.18 344.09L542.75 328.8L541.8 328.81ZM541.18 344.09L542.16 344.07L543.69 328.78L542.75 328.8ZM542.16 344.07L543.14 344.05L544.64 328.76L543.69 328.78ZM543.14 344.05L544.22 347.41L545.69 332.02L544.64 328.76ZM544.22 347.41L545.2 347.39L546.64 332L545.69 332.02ZM545.2 347.39L546.18 347.37L547.58 331.98L546.64 332ZM546.18 347.37L547.26 350.73L548.63 335.24L547.58 331.98ZM547.26 350.73L548.23 350.71L549.57 335.22L548.63 335.24ZM548.23 350.71L549.21 350.69L550.52 335.2L549.57 335.22ZM549.21 350.69L550.19 350.67L551.47 335.18L550.52 335.2ZM550.19 350.67L551.27 354.02L552.51 338.43L551.47 335.18ZM551.27 354.02L552.24 354L553.45 338.42L552.51 338.43ZM552.24 354L553.22 353.98L554.4 338.4L553.45 338.42ZM553.22 353.98L554.29 357.32L555.44 341.65L554.4 338.4ZM554.29 357.32L555.27 357.3L556.38 341.63L555.44 341.65ZM555.27 357.3L556.25 357.28L557.33 341.61L556.38 341.63ZM556.25 357.28L557.32 360.62L558.37 344.85L557.33 341.61ZM557.32 360.62L558.29 360.6L559.31 344.83L558.37 344.85ZM558.29 360.6L559.27 360.58L560.25 344.81L559.31 344.83ZM559.27 360.58L560.34 363.92L561.29 348.05L560.25 344.81ZM560.34 363.92L561.31 363.9L562.23 348.03L561.29 348.05ZM561.31 363.9L562.29 363.88L563.18 348.02L562.23 348.03ZM562.29 363.88L563.36 367.21L564.21 351.25L563.18 348.02ZM563.36 367.21L564.33 367.19L565.15 351.23L564.21 351.25ZM564.33 367.19L565.3 367.17L566.09 351.21L565.15 351.23ZM565.3 367.17L566.37 370.5L567.12 354.44L566.09 351.21ZM566.37 370.5L567.34 370.48L568.07 354.42L567.12 354.44ZM567.34 370.48L568.31 370.46L569.01 354.41L568.07 354.42ZM568.31 370.46L569.37 373.78L570.04 357.63L569.01 354.41ZM569.37 373.78L570.35 373.76L570.98 357.61L570.04 357.63ZM570.35 373.76L571.32 373.74L571.92 357.59L570.98 357.61ZM571.32 373.74L572.38 377.06L572.94 360.82L571.92 357.59ZM572.38 377.06L573.35 377.04L573.88 360.8L572.94 360.82ZM573.35 377.04L574.32 377.02L574.82 360.78L573.88 360.8ZM574.32 377.02L575.29 377L575.76 360.76L574.82 360.78ZM575.29 377L576.26 376.98L576.7 360.74L575.76 360.76ZM576.26 376.98L577.23 376.96L577.64 360.72L576.7 360.74ZM577.23 376.96L578.2 376.94L578.58 360.7L577.64 360.72ZM578.2 376.94L579.17 376.92L579.52 360.68L578.58 360.7ZM579.17 376.92L580.14 376.9L580.46 360.66L579.52 360.68ZM580.14 376.9L581.12 376.88L581.4 360.64L580.46 360.66ZM581.12 376.88L582.09 376.86L582.34 360.62L581.4 360.64ZM582.09 376.86L583.06 376.84L583.28 360.61L582.34 360.62ZM583.06 376.84L584.03 376.81L584.22 360.59L583.28 360.61ZM584.03 376.81L585 376.79L585.16 360.57L584.22 360.59ZM585 376.79L585.97 376.77L586.1 360.55L585.16 360.57ZM585.97 376.77L586.94 376.75L587.04 360.53L586.1 360.55ZM586.94 376.75L587.91 376.73L587.98 360.51L587.04 360.53ZM587.91 376.73L588.88 376.71L588.91 360.49L587.98 360.51ZM588.88 376.71L589.85 376.69L589.85 360.47L588.91 360.49ZM589.85 376.69L590.81 376.67L590.79 360.45L589.85 360.47ZM590.81 376.67L591.78 376.65L591.73 360.43L590.79 360.45ZM591.78 376.65L592.75 376.63L592.67 360.41L591.73 360.43ZM592.75 376.63L593.72 376.61L593.61 360.39L592.67 360.41ZM593.72 376.61L594.69 376.59L594.55 360.37L593.61 360.39ZM594.69 376.59L595.66 376.57L595.48 360.35L594.55 360.37ZM595.66 376.57L596.63 376.55L596.42 360.34L595.48 360.35ZM596.63 376.55L597.6 376.53L597.36 360.32L596.42 360.34ZM597.6 376.53L598.57 376.51L598.3 360.3L597.36 360.32ZM598.57 376.51L599.54 376.48L599.24 360.28L598.3 360.3ZM599.54 376.48L600.58 379.8L600.25 363.49L599.24 360.28ZM600.58 379.8L601.55 379.78L601.18 363.47L600.25 363.49ZM601.55 379.78L602.51 379.76L602.12 363.45L601.18 363.47ZM602.51 379.76L603.48 379.73L603.06 363.44L602.12 363.45ZM603.48 379.73L604.52 383.04L604.06 366.65L603.06 363.44ZM604.52 383.04L605.49 383.02L605 366.63L604.06 366.65ZM605.49 383.02L606.52 386.33L606 369.84L605 366.63ZM606.52 386.33L607.49 386.3L606.94 369.82L606 369.84ZM607.49 386.3L608.46 386.28L607.88 369.8L606.94 369.82ZM608.46 386.28L609.49 389.58L608.88 373L607.88 369.8ZM609.49 389.58L610.46 389.56L609.81 372.98L608.88 373ZM610.46 389.56L611.49 392.86L610.81 376.18L609.81 372.98ZM611.49 392.86L612.45 392.84L611.75 376.16L610.81 376.18ZM612.45 392.84L613.48 396.13L612.74 379.36L611.75 376.16ZM613.48 396.13L614.45 396.11L613.68 379.34L612.74 379.36ZM614.45 396.11L615.41 396.08L614.61 379.32L613.68 379.34ZM615.41 396.08L616.44 399.37L615.61 382.51L614.61 379.32ZM616.44 399.37L617.4 399.35L616.54 382.49L615.61 382.51ZM617.4 399.35L618.43 402.63L617.54 385.68L616.54 382.49ZM618.43 402.63L619.39 402.61L618.47 385.66L617.54 385.68ZM619.39 402.61L620.36 402.59L619.4 385.64L618.47 385.66ZM620.36 402.59L621.32 402.57L620.33 385.62L619.4 385.64ZM621.32 402.57L622.34 405.85L621.32 388.81L620.33 385.62ZM622.34 405.85L623.3 405.83L622.26 388.78L621.32 388.81ZM623.3 405.83L624.27 405.8L623.19 388.76L622.26 388.78ZM624.27 405.8L625.29 409.08L624.18 391.95L623.19 388.76ZM625.29 409.08L626.25 409.06L625.11 391.93L624.18 391.95ZM626.25 409.06L627.21 409.04L626.04 391.9L625.11 391.93ZM627.21 409.04L628.17 409.01L626.97 391.88L626.04 391.9ZM628.17 409.01L629.13 408.99L627.9 391.86L626.97 391.88ZM629.13 408.99L630.15 412.26L628.88 395.04L627.9 391.86ZM630.15 412.26L631.11 412.24L629.81 395.02L628.88 395.04ZM631.11 412.24L632.07 412.22L630.74 395L629.81 395.02ZM632.07 412.22L633.03 412.2L631.67 394.98L630.74 395ZM633.03 412.2L633.99 412.17L632.6 394.96L631.67 394.98ZM633.99 412.17L634.95 412.15L633.53 394.94L632.6 394.96ZM634.95 412.15L635.91 412.13L634.46 394.92L633.53 394.94ZM635.91 412.13L636.87 412.11L635.39 394.9L634.46 394.92ZM636.87 412.11L637.83 412.09L636.32 394.88L635.39 394.9ZM637.83 412.09L638.79 412.06L637.25 394.86L636.32 394.88ZM638.79 412.06L639.75 412.04L638.18 394.83L637.25 394.86ZM639.75 412.04L640.71 412.02L639.11 394.81L638.18 394.83ZM640.71 412.02L641.67 412L640.04 394.79L639.11 394.81ZM641.67 412L642.63 411.98L640.97 394.77L640.04 394.79ZM642.63 411.98L643.58 411.95L641.9 394.75L640.97 394.77ZM643.58 411.95L644.54 411.93L642.83 394.73L641.9 394.75ZM644.54 411.93L645.5 411.91L643.76 394.71L642.83 394.73ZM645.5 411.91L646.46 411.89L644.68 394.69L643.76 394.71ZM646.46 411.89L647.42 411.87L645.61 394.67L644.68 394.69ZM647.42 411.87L648.38 411.84L646.54 394.65L645.61 394.67ZM648.38 411.84L649.34 411.82L647.47 394.63L646.54 394.65ZM649.34 411.82L650.3 411.8L648.4 394.61L647.47 394.63ZM650.3 411.8L651.25 411.78L649.33 394.59L648.4 394.61ZM651.25 411.78L652.21 411.76L650.25 394.57L649.33 394.59ZM652.21 411.76L653.17 411.73L651.18 394.55L650.25 394.57ZM653.17 411.73L654.09 408.42L652.07 391.33L651.18 394.55ZM654.09 408.42L655.05 408.4L653 391.31L652.07 391.33ZM655.05 408.4L656 408.38L653.93 391.29L653 391.31ZM656 408.38L656.96 408.36L654.85 391.27L653.93 391.29ZM656.96 408.36L657.92 408.33L655.78 391.25L654.85 391.27ZM657.92 408.33L658.88 408.31L656.71 391.23L655.78 391.25ZM658.88 408.31L659.8 405L657.6 388.01L656.71 391.23ZM659.8 405L660.76 404.98L658.53 387.99L657.6 388.01ZM660.76 404.98L661.71 404.96L659.46 387.97L658.53 387.99ZM661.71 404.96L662.67 404.93L660.38 387.95L659.46 387.97ZM662.67 404.93L663.59 401.62L661.27 384.73L660.38 387.95ZM663.59 401.62L664.55 401.6L662.2 384.71L661.27 384.73ZM664.55 401.6L665.51 401.57L663.13 384.69L662.2 384.71ZM665.51 401.57L666.43 398.25L664.02 381.47L663.13 384.69ZM666.43 398.25L667.39 398.23L664.95 381.45L664.02 381.47ZM667.39 398.23L668.32 394.91L665.85 378.22L664.95 381.45ZM668.32 394.91L669.24 391.58L666.74 374.99L665.85 378.22ZM669.24 391.58L670.2 391.56L667.67 374.97L666.74 374.99ZM670.2 391.56L671.16 391.54L668.6 374.95L667.67 374.97ZM671.16 391.54L672.09 388.21L669.5 371.72L668.6 374.95ZM672.09 388.21L673.05 388.19L670.42 371.7L669.5 371.72ZM673.05 388.19L673.98 384.86L671.32 368.46L670.42 371.7ZM673.98 384.86L674.94 384.84L672.25 368.44L671.32 368.46ZM674.94 384.84L675.86 381.5L673.15 365.21L672.25 368.44ZM675.86 381.5L676.79 378.16L674.05 361.96L673.15 365.21ZM676.79 378.16L677.76 378.14L674.98 361.95L674.05 361.96ZM677.76 378.14L678.69 374.8L675.88 358.7L674.98 361.95ZM678.69 374.8L679.65 374.78L676.81 358.68L675.88 358.7ZM679.65 374.78L680.58 371.43L677.71 355.43L676.81 358.68ZM680.58 371.43L681.54 371.41L678.65 355.42L677.71 355.43ZM681.54 371.41L682.48 368.06L679.55 352.17L678.65 355.42ZM682.48 368.06L683.44 368.04L680.48 352.15L679.55 352.17ZM683.44 368.04L684.38 364.69L681.39 348.89L680.48 352.15ZM684.38 364.69L685.31 361.34L682.29 345.64L681.39 348.89ZM685.31 361.34L686.28 361.32L683.22 345.62L682.29 345.64ZM686.28 361.32L687.21 357.96L684.13 342.36L683.22 345.62ZM687.21 357.96L688.18 357.94L685.06 342.34L684.13 342.36ZM688.18 357.94L689.12 354.58L685.97 339.08L685.06 342.34ZM689.12 354.58L690.06 351.21L686.88 335.81L685.97 339.08ZM690.06 351.21L691.02 351.19L687.81 335.79L686.88 335.81ZM691.02 351.19L691.96 347.82L688.72 332.52L687.81 335.79ZM691.96 347.82L692.91 344.45L689.64 329.25L688.72 332.52ZM692.91 344.45L693.87 344.43L690.57 329.23L689.64 329.25ZM693.87 344.43L694.81 341.06L691.48 325.96L690.57 329.23ZM694.81 341.06L695.76 337.68L692.4 322.68L691.48 325.96ZM695.76 337.68L696.73 337.66L693.33 322.66L692.4 322.68ZM696.73 337.66L697.67 334.28L694.25 319.38L693.33 322.66ZM697.67 334.28L698.62 330.89L695.16 316.1L694.25 319.38ZM698.62 330.89L699.57 327.5L696.08 312.81L695.16 316.1ZM699.57 327.5L700.53 327.48L697.01 312.79L696.08 312.81ZM700.53 327.48L701.48 324.09L697.93 309.5L697.01 312.79ZM701.48 324.09L702.45 324.07L698.87 309.48L697.93 309.5ZM702.45 324.07L703.4 320.68L699.79 306.19L698.87 309.48ZM703.4 320.68L704.37 320.66L700.72 306.17L699.79 306.19ZM704.37 320.66L705.32 317.26L701.64 302.88L700.72 306.17ZM705.32 317.26L706.29 317.24L702.58 302.86L701.64 302.88ZM706.29 317.24L707.26 317.23L703.52 302.84L702.58 302.86ZM707.26 317.23L708.23 317.21L704.46 302.83L703.52 302.84ZM708.23 317.21L709.21 320.57L705.41 306.09L704.46 302.83ZM709.21 320.57L710.19 323.93L706.36 309.35L705.41 306.09ZM710.19 323.93L711.17 327.28L707.31 312.6L706.36 309.35ZM711.17 327.28L712.13 327.26L708.25 312.58L707.31 312.6ZM712.13 327.26L713.11 330.61L709.19 315.84L708.25 312.58ZM713.11 330.61L714.09 333.96L710.14 319.08L709.19 315.84ZM714.09 333.96L715.05 333.94L711.08 319.07L710.14 319.08ZM715.05 333.94L716.03 337.28L712.02 322.31L711.08 319.07ZM716.03 337.28L717 340.62L712.97 325.55L712.02 322.31ZM717 340.62L717.97 343.95L713.91 328.79L712.97 325.55ZM717.97 343.95L718.94 343.93L714.84 328.77L713.91 328.79ZM718.94 343.93L719.91 347.26L715.78 332L714.84 328.77ZM719.91 347.26L720.87 350.59L716.72 335.23L715.78 332ZM720.87 350.59L721.84 353.91L717.66 338.45L716.72 335.23ZM721.84 353.91L722.81 357.23L718.6 341.67L717.66 338.45ZM722.81 357.23L723.78 360.54L719.54 344.89L718.6 341.67ZM723.78 360.54L724.74 363.85L720.48 348.11L719.54 344.89ZM724.74 363.85L725.7 367.16L721.41 351.32L720.48 348.11ZM725.7 367.16L726.67 370.46L722.35 354.52L721.41 351.32ZM726.67 370.46L727.62 370.44L723.28 354.5L722.35 354.52ZM727.62 370.44L728.59 373.74L724.21 357.71L723.28 354.5ZM728.59 373.74L729.54 377.03L725.14 360.91L724.21 357.71ZM729.54 377.03L730.5 377.01L726.07 360.89L725.14 360.91ZM730.5 377.01L731.46 376.99L726.99 360.87L726.07 360.89ZM731.46 376.99L732.41 376.97L727.92 360.85L726.99 360.87ZM732.41 376.97L733.37 376.95L728.85 360.83L727.92 360.85ZM733.37 376.95L734.33 376.93L729.77 360.81L728.85 360.83ZM734.33 376.93L735.28 376.91L730.7 360.79L729.77 360.81ZM735.28 376.91L736.24 376.89L731.62 360.77L730.7 360.79ZM736.24 376.89L737.2 376.87L732.55 360.75L731.62 360.77ZM737.2 376.87L738.15 373.53L733.48 357.52L732.55 360.75ZM738.15 373.53L739.11 373.51L734.4 357.5L733.48 357.52ZM739.11 373.51L740.07 373.49L735.33 357.48L734.4 357.5ZM740.07 373.49L741.02 373.47L736.26 357.46L735.33 357.48ZM741.02 373.47L741.98 373.45L737.18 357.44L736.26 357.46ZM741.98 373.45L742.94 370.11L738.11 354.2L737.18 357.44ZM742.94 370.11L743.9 370.09L739.04 354.18L738.11 354.2ZM743.9 370.09L744.85 370.07L739.96 354.16L739.04 354.18ZM744.85 370.07L745.81 370.05L740.89 354.15L739.96 354.16ZM745.81 370.05L746.77 366.71L741.82 350.9L740.89 354.15ZM746.77 366.71L747.73 366.69L742.75 350.88L741.82 350.9ZM747.73 366.69L748.69 366.67L743.67 350.87L742.75 350.88ZM748.69 366.67L749.64 366.65L744.6 350.85L743.67 350.87ZM749.64 366.65L750.61 363.31L745.53 347.6L744.6 350.85ZM750.61 363.31L751.57 363.29L746.46 347.58L745.53 347.6ZM751.57 363.29L752.52 363.27L747.39 347.57L746.46 347.58ZM752.52 363.27L753.48 363.25L748.31 347.55L747.39 347.57ZM753.48 363.25L754.44 363.23L749.24 347.53L748.31 347.55ZM754.44 363.23L755.41 359.89L750.18 344.28L749.24 347.53ZM755.41 359.89L756.36 359.87L751.1 344.26L750.18 344.28ZM756.36 359.87L757.32 359.85L752.03 344.24L751.1 344.26ZM757.32 359.85L758.28 359.83L752.96 344.23L752.03 344.24ZM758.28 359.83L759.23 359.81L753.88 344.21L752.96 344.23ZM759.23 359.81L760.2 356.46L754.82 340.96L753.88 344.21ZM760.2 356.46L761.16 356.44L755.75 340.94L754.82 340.96ZM761.16 356.44L762.12 356.42L756.68 340.92L755.75 340.94ZM762.12 356.42L763.08 356.4L757.6 340.9L756.68 340.92ZM763.08 356.4L764.03 356.38L758.53 340.88L757.6 340.9ZM764.03 356.38L764.99 356.36L759.46 340.87L758.53 340.88ZM764.99 356.36L765.95 356.34L760.38 340.85L759.46 340.87ZM765.95 356.34L766.9 356.32L761.31 340.83L760.38 340.85ZM766.9 356.32L767.86 356.3L762.24 340.81L761.31 340.83ZM767.86 356.3L768.82 356.28L763.16 340.79L762.24 340.81ZM768.82 356.28L769.77 356.26L764.09 340.77L763.16 340.79ZM769.77 356.26L770.73 356.24L765.02 340.75L764.09 340.77ZM770.73 356.24L771.66 359.55L765.92 343.97L765.02 340.75ZM771.66 359.55L772.62 359.53L766.85 343.95L765.92 343.97ZM772.62 359.53L773.58 359.51L767.78 343.93L766.85 343.95ZM773.58 359.51L774.53 359.49L768.7 343.91L767.78 343.93ZM774.53 359.49L775.49 359.47L769.63 343.89L768.7 343.91ZM775.49 359.47L776.42 362.77L770.53 347.1L769.63 343.89ZM776.42 362.77L777.37 362.75L771.46 347.08L770.53 347.1ZM777.37 362.75L778.33 362.73L772.38 347.06L771.46 347.08ZM778.33 362.73L779.26 366.03L773.29 350.27L772.38 347.06ZM779.26 366.03L780.21 366.01L774.21 350.25L773.29 350.27ZM780.21 366.01L781.17 365.99L775.13 350.23L774.21 350.25ZM781.17 365.99L782.09 369.29L776.04 353.43L775.13 350.23ZM782.09 369.29L783.05 369.27L776.96 353.41L776.04 353.43ZM783.05 369.27L783.97 372.56L777.86 356.6L776.96 353.41ZM783.97 372.56L784.92 372.54L778.78 356.59L777.86 356.6ZM784.92 372.54L785.85 375.82L779.68 359.78L778.78 356.59ZM785.85 375.82L786.8 375.8L780.6 359.76L779.68 359.78ZM786.8 375.8L787.72 379.08L781.5 362.95L780.6 359.76ZM787.72 379.08L788.64 382.36L782.39 366.13L781.5 362.95ZM788.64 382.36L789.56 385.64L783.29 369.31L782.39 366.13ZM789.56 385.64L790.48 388.91L784.18 372.49L783.29 369.31ZM790.48 388.91L791.4 392.18L785.08 375.66L784.18 372.49ZM791.4 392.18L792.32 395.44L785.97 378.83L785.08 375.66ZM792.32 395.44L793.23 398.7L786.86 382L785.97 378.83ZM793.23 398.7L794.18 398.68L787.78 381.98L786.86 382ZM794.18 398.68L795.1 401.93L788.67 385.14L787.78 381.98ZM795.1 401.93L796.01 405.18L789.55 388.3L788.67 385.14ZM796.01 405.18L796.96 405.16L790.47 388.28L789.55 388.3ZM796.96 405.16L797.87 408.41L791.36 391.44L790.47 388.28ZM797.87 408.41L798.78 411.65L792.24 394.59L791.36 391.44ZM798.78 411.65L799.72 411.63L793.16 394.57L792.24 394.59ZM799.72 411.63L800.63 414.87L794.04 397.72L793.16 394.57ZM800.63 414.87L801.58 414.85L794.96 397.7L794.04 397.72ZM801.58 414.85L802.48 418.09L795.84 400.84L794.96 397.7ZM802.48 418.09L803.39 421.32L796.72 403.98L795.84 400.84ZM803.39 421.32L804.33 421.3L797.64 403.96L796.72 403.98ZM804.33 421.3L805.24 424.53L798.52 407.1L797.64 403.96ZM805.24 424.53L806.18 424.5L799.43 407.08L798.52 407.1ZM806.18 424.5L807.08 427.73L800.31 410.21L799.43 407.08ZM807.08 427.73L808.02 427.71L801.22 410.19L800.31 410.21ZM808.02 427.71L808.93 430.93L802.1 413.32L801.22 410.19ZM808.93 430.93L809.87 430.9L803.01 413.3L802.1 413.32ZM809.87 430.9L810.77 434.12L803.89 416.43L803.01 413.3ZM810.77 434.12L811.67 437.34L804.76 419.55L803.89 416.43ZM811.67 437.34L812.61 437.31L805.67 419.53L804.76 419.55ZM812.61 437.31L813.5 440.52L806.54 422.65L805.67 419.53ZM813.5 440.52L814.44 440.5L807.45 422.63L806.54 422.65ZM814.44 440.5L815.34 443.7L808.33 425.74L807.45 422.63ZM815.34 443.7L816.28 443.68L809.24 425.72L808.33 425.74ZM816.28 443.68L817.17 446.88L810.11 428.83L809.24 425.72ZM817.17 446.88L818.11 446.86L811.01 428.81L810.11 428.83ZM818.11 446.86L819 450.06L811.88 431.92L811.01 428.81ZM819 450.06L819.89 453.25L812.75 435.03L811.88 431.92ZM819.89 453.25L820.83 453.23L813.66 435L812.75 435.03ZM820.83 453.23L821.72 456.42L814.52 438.11L813.66 435ZM821.72 456.42L822.65 456.4L815.43 438.08L814.52 438.11ZM822.65 456.4L823.54 459.58L816.3 441.18L815.43 438.08ZM823.54 459.58L824.48 459.56L817.2 441.16L816.3 441.18ZM824.48 459.56L825.36 462.74L818.07 444.25L817.2 441.16ZM825.36 462.74L826.3 462.72L818.97 444.23L818.07 444.25ZM826.3 462.72L827.18 465.9L819.83 447.32L818.97 444.23ZM827.18 465.9L828.12 465.87L820.74 447.3L819.83 447.32ZM828.12 465.87L829 469.05L821.6 450.39L820.74 447.3ZM829 469.05L829.93 469.03L822.5 450.37L821.6 450.39ZM829.93 469.03L830.81 472.2L823.36 453.45L822.5 450.37ZM830.81 472.2L831.75 472.17L824.27 453.43L823.36 453.45ZM831.75 472.17L832.63 475.34L825.12 456.51L824.27 453.43ZM832.63 475.34L833.56 475.32L826.03 456.48L825.12 456.51ZM833.56 475.32L834.44 478.48L826.88 459.56L826.03 456.48ZM834.44 478.48L835.37 478.46L827.78 459.54L826.88 459.56ZM835.37 478.46L836.24 481.62L828.64 462.61L827.78 459.54ZM836.24 481.62L837.18 481.59L829.54 462.59L828.64 462.61ZM837.18 481.59L838.05 484.75L830.39 465.66L829.54 462.59ZM838.05 484.75L838.98 484.72L831.29 465.63L830.39 465.66ZM838.98 484.72L839.85 487.88L832.15 468.7L831.29 465.63ZM839.85 487.88L840.78 487.85L833.05 468.68L832.15 468.7ZM840.78 487.85L841.71 487.83L833.95 468.65L833.05 468.68ZM841.71 487.83L842.58 490.98L834.8 471.72L833.95 468.65ZM842.58 490.98L843.51 490.95L835.7 471.69L834.8 471.72ZM843.51 490.95L844.38 494.1L836.54 474.75L835.7 471.69ZM844.38 494.1L845.31 494.07L837.44 474.73L836.54 474.75ZM845.31 494.07L846.24 494.05L838.34 474.71L837.44 474.73ZM846.24 494.05L847.11 497.19L839.19 477.76L838.34 474.71ZM847.11 497.19L848.03 497.16L840.09 477.74L839.19 477.76ZM848.03 497.16L848.96 497.14L840.99 477.71L840.09 477.74ZM848.96 497.14L849.83 500.28L841.83 480.77L840.99 477.71ZM849.83 500.28L850.75 500.25L842.73 480.74L841.83 480.77ZM850.75 500.25L851.68 500.22L843.63 480.72L842.73 480.74ZM851.68 500.22L852.61 500.2L844.53 480.69L843.63 480.72ZM852.61 500.2L853.47 503.33L845.37 483.74L844.53 480.69ZM853.47 503.33L854.4 503.31L846.26 483.72L845.37 483.74ZM854.4 503.31L855.32 503.28L847.16 483.7L846.26 483.72ZM855.32 503.28L856.25 503.26L848.06 483.67L847.16 483.7ZM856.25 503.26L857.11 506.39L848.9 486.72L848.06 483.67ZM857.11 506.39L858.03 506.36L849.79 486.69L848.9 486.72ZM858.03 506.36L858.96 506.34L850.69 486.67L849.79 486.69ZM858.96 506.34L859.88 506.31L851.59 486.64L850.69 486.67ZM859.88 506.31L860.81 506.29L852.48 486.62L851.59 486.64ZM860.81 506.29L861.66 509.41L853.32 489.66L852.48 486.62ZM861.66 509.41L862.59 509.39L854.22 489.64L853.32 489.66ZM862.59 509.39L863.51 509.36L855.11 489.61L854.22 489.64ZM863.51 509.36L864.44 509.33L856.01 489.59L855.11 489.61ZM864.44 509.33L865.36 509.31L856.9 489.57L856.01 489.59ZM865.36 509.31L866.28 509.28L857.8 489.54L856.9 489.57ZM866.28 509.28L867.21 509.26L858.7 489.52L857.8 489.54ZM867.21 509.26L868.06 512.38L859.53 492.55L858.7 489.52ZM868.06 512.38L868.98 512.35L860.42 492.53L859.53 492.55ZM868.98 512.35L869.91 512.33L861.32 492.51L860.42 492.53ZM869.91 512.33L870.83 512.3L862.21 492.48L861.32 492.51ZM870.83 512.3L871.75 512.28L863.11 492.46L862.21 492.48ZM871.75 512.28L872.67 512.25L864 492.43L863.11 492.46ZM872.67 512.25L873.6 512.22L864.9 492.41L864 492.43ZM873.6 512.22L874.52 512.2L865.79 492.39L864.9 492.41ZM874.52 512.2L875.44 512.17L866.69 492.36L865.79 492.39ZM875.44 512.17L876.37 512.15L867.58 492.34L866.69 492.36ZM876.37 512.15L877.29 512.12L868.47 492.31L867.58 492.34ZM877.29 512.12L878.13 515.24L869.3 495.34L868.47 492.31ZM878.13 515.24L879.06 515.21L870.19 495.32L869.3 495.34ZM879.06 515.21L879.98 515.19L871.09 495.3L870.19 495.32ZM879.98 515.19L880.9 515.16L871.98 495.27L871.09 495.3ZM880.9 515.16L881.82 515.14L872.87 495.25L871.98 495.27ZM881.82 515.14L882.74 515.11L873.77 495.22L872.87 495.25ZM882.74 515.11L883.66 515.08L874.66 495.2L873.77 495.22ZM883.66 515.08L884.58 515.06L875.55 495.18L874.66 495.2ZM884.58 515.06L885.51 515.03L876.45 495.15L875.55 495.18ZM885.51 515.03L886.43 515.01L877.34 495.13L876.45 495.15ZM886.43 515.01L887.35 514.98L878.23 495.1L877.34 495.13ZM887.35 514.98L888.27 514.95L879.13 495.08L878.23 495.1ZM888.27 514.95L889.19 514.93L880.02 495.05L879.13 495.08ZM889.19 514.93L890.11 514.9L880.91 495.03L880.02 495.05ZM890.11 514.9L891.03 514.88L881.81 495.01L880.91 495.03ZM891.03 514.88L891.95 514.85L882.7 494.98L881.81 495.01ZM891.95 514.85L892.87 514.83L883.59 494.96L882.7 494.98ZM892.87 514.83L893.79 514.8L884.48 494.93L883.59 494.96ZM893.79 514.8L894.71 514.77L885.38 494.91L884.48 494.93ZM894.71 514.77L895.63 514.75L886.27 494.89L885.38 494.91ZM895.63 514.75L896.55 514.72L887.16 494.86L886.27 494.89ZM896.55 514.72L897.47 514.7L888.05 494.84L887.16 494.86ZM897.47 514.7L898.39 514.67L888.95 494.81L888.05 494.84ZM898.39 514.67L899.31 514.65L889.84 494.79L888.95 494.81ZM899.31 514.65L900.23 514.62L890.73 494.76L889.84 494.79ZM900.23 514.62L901.15 514.59L891.62 494.74L890.73 494.76ZM901.15 514.59L902.07 514.57L892.51 494.72L891.62 494.74ZM902.07 514.57L902.99 514.54L893.41 494.69L892.51 494.72ZM902.99 514.54L903.91 514.52L894.3 494.67L893.41 494.69ZM903.91 514.52L904.83 514.49L895.19 494.64L894.3 494.67ZM904.83 514.49L905.75 514.47L896.08 494.62L895.19 494.64ZM905.75 514.47L906.67 514.44L896.97 494.6L896.08 494.62ZM906.67 514.44L907.59 514.41L897.86 494.57L896.97 494.6ZM907.59 514.41L908.51 514.39L898.76 494.55L897.86 494.57ZM908.51 514.39L909.43 514.36L899.65 494.52L898.76 494.55ZM909.43 514.36L910.35 514.34L900.54 494.5L899.65 494.52ZM910.35 514.34L911.27 514.31L901.43 494.48L900.54 494.5ZM911.27 514.31L912.19 514.29L902.32 494.45L901.43 494.48Z" fill="#00ff00" stroke="#00ff00" stroke-width="0.5" stroke-linejoin="round"/>
<path d="M530.71 398.17L531.73 398.15L533.67 380.55L532.68 380.57ZM531.73 398.15L532.75 398.13L534.65 380.53L533.67 380.55ZM532.75 398.13L533.89 401.59L535.75 383.89L534.65 380.53ZM533.89 401.59L534.91 401.57L536.74 383.87L535.75 383.89ZM534.91 401.57L536.04 405.03L537.83 387.22L536.74 383.87ZM536.04 405.03L537.06 405.01L538.82 387.2L537.83 387.22ZM537.06 405.01L538.19 408.46L539.91 390.55L538.82 387.2ZM538.19 408.46L539.21 408.44L540.89 390.53L539.91 390.55ZM539.21 408.44L540.34 411.89L541.98 393.88L540.89 390.53ZM540.34 411.89L541.36 411.87L542.97 393.86L541.98 393.88ZM541.36 411.87L542.37 411.84L543.95 393.84L542.97 393.86ZM542.37 411.84L543.5 415.29L545.04 397.18L543.95 393.84ZM543.5 415.29L544.52 415.27L546.02 397.16L545.04 397.18ZM544.52 415.27L545.64 418.71L547.11 400.5L546.02 397.16ZM545.64 418.71L546.66 418.69L548.09 400.48L547.11 400.5ZM546.66 418.69L547.78 422.12L549.17 403.81L548.09 400.48ZM547.78 422.12L548.79 422.1L550.15 403.79L549.17 403.81ZM548.79 422.1L549.91 425.53L551.24 407.12L550.15 403.79ZM549.91 425.53L550.93 425.51L552.22 407.1L551.24 407.12ZM550.93 425.51L552.04 428.94L553.3 410.43L552.22 407.1ZM552.04 428.94L553.06 428.92L554.28 410.4L553.3 410.43ZM553.06 428.92L554.17 432.34L555.36 413.73L554.28 410.4ZM554.17 432.34L555.19 432.32L556.33 413.71L555.36 413.73ZM555.19 432.32L556.3 435.74L557.41 417.02L556.33 413.71ZM556.3 435.74L557.31 435.71L558.39 417L557.41 417.02ZM557.31 435.71L558.42 439.13L559.46 420.32L558.39 417ZM558.42 439.13L559.43 439.1L560.44 420.29L559.46 420.32ZM559.43 439.1L560.44 439.08L561.42 420.27L560.44 420.29ZM560.44 439.08L561.55 442.49L562.49 423.58L561.42 420.27ZM561.55 442.49L562.56 442.47L563.47 423.56L562.49 423.58ZM562.56 442.47L563.67 445.87L564.54 426.87L563.47 423.56ZM563.67 445.87L564.78 449.28L565.61 430.17L564.54 426.87ZM564.78 449.28L565.78 449.25L566.58 430.15L565.61 430.17ZM565.78 449.25L566.89 452.65L567.65 433.45L566.58 430.15ZM566.89 452.65L567.9 452.63L568.62 433.42L567.65 433.45ZM567.9 452.63L569 456.02L569.69 436.72L568.62 433.42ZM569 456.02L570.1 459.41L570.75 440.01L569.69 436.72ZM570.1 459.41L571.1 459.39L571.73 439.98L570.75 440.01ZM571.1 459.39L572.2 462.77L572.79 443.27L571.73 439.98ZM572.2 462.77L573.21 462.75L573.76 443.25L572.79 443.27ZM573.21 462.75L574.3 466.13L574.82 446.53L573.76 443.25ZM574.3 466.13L575.31 466.1L575.79 446.51L574.82 446.53ZM575.31 466.1L576.4 469.48L576.85 449.79L575.79 446.51ZM576.4 469.48L577.41 469.46L577.82 449.76L576.85 449.79ZM577.41 469.46L578.41 469.43L578.79 449.74L577.82 449.76ZM578.41 469.43L579.5 472.8L579.85 453.01L578.79 449.74ZM579.5 472.8L580.51 472.78L580.82 452.99L579.85 453.01ZM580.51 472.78L581.6 476.15L581.87 456.26L580.82 452.99ZM581.6 476.15L582.6 476.12L582.84 456.23L581.87 456.26ZM582.6 476.12L583.6 476.1L583.81 456.21L582.84 456.23ZM583.6 476.1L584.69 479.46L584.86 459.48L583.81 456.21ZM584.69 479.46L585.69 479.43L585.83 459.45L584.86 459.48ZM585.69 479.43L586.69 479.41L586.8 459.43L585.83 459.45ZM586.69 479.41L587.69 479.38L587.77 459.4L586.8 459.43ZM587.69 479.38L588.78 482.74L588.82 462.67L587.77 459.4ZM588.78 482.74L589.78 482.72L589.79 462.64L588.82 462.67ZM589.78 482.72L590.78 482.69L590.76 462.62L589.79 462.64ZM590.78 482.69L591.78 482.66L591.73 462.59L590.76 462.62ZM591.78 482.66L592.78 482.64L592.69 462.57L591.73 462.59ZM592.78 482.64L593.78 482.61L593.66 462.54L592.69 462.57ZM593.78 482.61L594.78 482.58L594.63 462.52L593.66 462.54ZM594.78 482.58L595.86 485.94L595.67 465.78L594.63 462.52ZM595.86 485.94L596.86 485.91L596.64 465.75L595.67 465.78ZM596.86 485.91L597.86 485.89L597.61 465.73L596.64 465.75ZM597.86 485.89L598.86 485.86L598.57 465.7L597.61 465.73ZM598.86 485.86L599.86 485.83L599.54 465.68L598.57 465.7ZM599.86 485.83L600.86 485.81L600.51 465.66L599.54 465.68ZM600.86 485.81L601.86 485.78L601.47 465.63L600.51 465.66ZM601.86 485.78L602.86 485.76L602.44 465.61L601.47 465.63ZM602.86 485.76L603.93 489.11L603.48 468.86L602.44 465.61ZM603.93 489.11L604.93 489.08L604.44 468.83L603.48 468.86ZM604.93 489.08L605.93 489.05L605.41 468.81L604.44 468.83ZM605.93 489.05L606.92 489.03L606.38 468.78L605.41 468.81ZM606.92 489.03L607.92 489L607.34 468.76L606.38 468.78ZM607.92 489L608.92 488.97L608.31 468.74L607.34 468.76ZM608.92 488.97L609.92 488.95L609.27 468.71L608.31 468.74ZM609.92 488.95L610.92 488.92L610.24 468.69L609.27 468.71ZM610.92 488.92L611.91 488.89L611.2 468.66L610.24 468.69ZM611.91 488.89L612.91 488.87L612.17 468.64L611.2 468.66ZM612.91 488.87L613.91 488.84L613.14 468.61L612.17 468.64ZM613.91 488.84L614.91 488.82L614.1 468.59L613.14 468.61ZM614.91 488.82L615.9 488.79L615.07 468.56L614.1 468.59ZM615.9 488.79L616.9 488.76L616.03 468.54L615.07 468.56ZM616.9 488.76L617.9 488.74L617 468.51L616.03 468.54ZM617.9 488.74L618.9 488.71L617.96 468.49L617 468.51ZM618.9 488.71L619.89 488.68L618.92 468.46L617.96 468.49ZM619.89 488.68L620.89 488.66L619.89 468.44L618.92 468.46ZM620.89 488.66L621.89 488.63L620.85 468.42L619.89 468.44ZM621.89 488.63L622.88 488.6L621.82 468.39L620.85 468.42ZM622.88 488.6L623.88 488.58L622.78 468.37L621.82 468.39ZM623.88 488.58L624.88 488.55L623.75 468.34L622.78 468.37ZM624.88 488.55L625.87 488.53L624.71 468.32L623.75 468.34ZM625.87 488.53L626.87 488.5L625.68 468.29L624.71 468.32ZM626.87 488.5L627.87 488.47L626.64 468.27L625.68 468.29ZM627.87 488.47L628.86 488.45L627.6 468.24L626.64 468.27ZM628.86 488.45L629.86 488.42L628.57 468.22L627.6 468.24ZM629.86 488.42L630.8 485.02L629.47 464.92L628.57 468.22ZM630.8 485.02L631.79 485L630.44 464.9L629.47 464.92ZM631.79 485L632.79 484.97L631.4 464.87L630.44 464.9ZM632.79 484.97L633.79 484.94L632.37 464.85L631.4 464.87ZM633.79 484.94L634.78 484.92L633.33 464.82L632.37 464.85ZM634.78 484.92L635.78 484.89L634.29 464.8L633.33 464.82ZM635.78 484.89L636.78 484.86L635.26 464.77L634.29 464.8ZM636.78 484.86L637.77 484.84L636.22 464.75L635.26 464.77ZM637.77 484.84L638.77 484.81L637.19 464.72L636.22 464.75ZM638.77 484.81L639.76 484.79L638.15 464.7L637.19 464.72ZM639.76 484.79L640.76 484.76L639.11 464.68L638.15 464.7ZM640.76 484.76L641.75 484.73L640.08 464.65L639.11 464.68ZM641.75 484.73L642.75 484.71L641.04 464.63L640.08 464.65ZM642.75 484.71L643.7 481.31L641.95 461.33L641.04 464.63ZM643.7 481.31L644.69 481.28L642.92 461.3L641.95 461.33ZM644.69 481.28L645.69 481.25L643.88 461.28L642.92 461.3ZM645.69 481.25L646.68 481.23L644.84 461.25L643.88 461.28ZM646.68 481.23L647.68 481.2L645.81 461.23L644.84 461.25ZM647.68 481.2L648.67 481.18L646.77 461.2L645.81 461.23ZM648.67 481.18L649.67 481.15L647.73 461.18L646.77 461.2ZM649.67 481.15L650.62 477.75L648.65 457.88L647.73 461.18ZM650.62 477.75L651.61 477.72L649.61 457.85L648.65 457.88ZM651.61 477.72L652.61 477.69L650.58 457.83L649.61 457.85ZM652.61 477.69L653.61 477.67L651.54 457.81L650.58 457.83ZM653.61 477.67L654.6 477.64L652.5 457.78L651.54 457.81ZM654.6 477.64L655.6 477.62L653.47 457.76L652.5 457.78ZM655.6 477.62L656.59 477.59L654.43 457.73L653.47 457.76ZM656.59 477.59L657.59 477.57L655.39 457.71L654.43 457.73ZM657.59 477.57L658.54 474.16L656.32 454.4L655.39 457.71ZM658.54 474.16L659.54 474.13L657.28 454.38L656.32 454.4ZM659.54 474.13L660.53 474.11L658.24 454.36L657.28 454.38ZM660.53 474.11L661.53 474.08L659.21 454.33L658.24 454.36ZM661.53 474.08L662.52 474.06L660.17 454.31L659.21 454.33ZM662.52 474.06L663.52 474.03L661.13 454.28L660.17 454.31ZM663.52 474.03L664.47 470.62L662.06 450.98L661.13 454.28ZM664.47 470.62L665.47 470.6L663.02 450.95L662.06 450.98ZM665.47 470.6L666.47 470.57L663.98 450.93L663.02 450.95ZM666.47 470.57L667.46 470.55L664.95 450.9L663.98 450.93ZM667.46 470.55L668.42 467.13L665.87 447.59L664.95 450.9ZM668.42 467.13L669.42 467.11L666.84 447.57L665.87 447.59ZM669.42 467.11L670.38 463.69L667.76 444.26L666.84 447.57ZM670.38 463.69L671.37 463.67L668.73 444.23L667.76 444.26ZM671.37 463.67L672.37 463.64L669.69 444.21L668.73 444.23ZM672.37 463.64L673.33 460.22L670.62 440.89L669.69 444.21ZM673.33 460.22L674.33 460.2L671.58 440.87L670.62 440.89ZM674.33 460.2L675.29 456.78L672.52 437.55L671.58 440.87ZM675.29 456.78L676.29 456.75L673.48 437.52L672.52 437.55ZM676.29 456.75L677.25 453.33L674.41 434.2L673.48 437.52ZM677.25 453.33L678.25 453.3L675.38 434.18L674.41 434.2ZM678.25 453.3L679.22 449.87L676.31 430.85L675.38 434.18ZM679.22 449.87L680.19 446.44L677.25 427.52L676.31 430.85ZM680.19 446.44L681.18 446.42L678.21 427.5L677.25 427.52ZM681.18 446.42L682.15 442.98L679.15 424.17L678.21 427.5ZM682.15 442.98L683.12 439.54L680.08 420.83L679.15 424.17ZM683.12 439.54L684.12 439.52L681.05 420.81L680.08 420.83ZM684.12 439.52L685.09 436.07L681.99 417.47L681.05 420.81ZM685.09 436.07L686.09 436.05L682.96 417.44L681.99 417.47ZM686.09 436.05L687.07 432.6L683.9 414.1L682.96 417.44ZM687.07 432.6L688.04 429.15L684.84 410.76L683.9 414.1ZM688.04 429.15L689.04 429.13L685.8 410.73L684.84 410.76ZM689.04 429.13L690.02 425.68L686.75 407.38L685.8 410.73ZM690.02 425.68L691.02 425.65L687.71 407.36L686.75 407.38ZM691.02 425.65L691.99 422.2L688.66 404.01L687.71 407.36ZM691.99 422.2L692.99 422.17L689.63 403.99L688.66 404.01ZM692.99 422.17L693.97 418.71L690.57 400.63L689.63 403.99ZM693.97 418.71L694.95 415.25L691.52 397.27L690.57 400.63ZM694.95 415.25L695.95 415.23L692.49 397.25L691.52 397.27ZM695.95 415.23L696.94 411.76L693.43 393.89L692.49 397.25ZM696.94 411.76L697.92 408.29L694.38 390.52L693.43 393.89ZM697.92 408.29L698.92 408.27L695.35 390.5L694.38 390.52ZM698.92 408.27L699.9 404.79L696.3 387.13L695.35 390.5ZM699.9 404.79L700.89 401.31L697.25 383.76L696.3 387.13ZM700.89 401.31L701.87 397.83L698.2 380.38L697.25 383.76ZM701.87 397.83L702.86 394.35L699.16 377L698.2 380.38ZM702.86 394.35L703.85 390.86L700.11 373.62L699.16 377ZM703.85 390.86L704.84 387.37L701.06 370.23L700.11 373.62ZM704.84 387.37L705.83 383.87L702.02 366.84L701.06 370.23ZM705.83 383.87L706.82 380.37L702.97 363.45L702.02 366.84ZM706.82 380.37L707.81 376.87L703.93 360.05L702.97 363.45ZM707.81 376.87L708.8 373.36L704.89 356.65L703.93 360.05ZM708.8 373.36L709.8 369.85L705.85 353.25L704.89 356.65ZM709.8 369.85L710.79 366.33L706.81 349.84L705.85 353.25ZM710.79 366.33L711.79 362.81L707.77 346.43L706.81 349.84ZM711.79 362.81L712.8 362.79L708.75 346.41L707.77 346.43ZM712.8 362.79L713.79 359.27L709.71 343L708.75 346.41ZM713.79 359.27L714.8 359.25L710.68 342.98L709.71 343ZM714.8 359.25L715.81 359.23L711.66 342.96L710.68 342.98ZM715.81 359.23L716.82 359.21L712.64 342.94L711.66 342.96ZM716.82 359.21L717.83 359.19L713.61 342.92L712.64 342.94ZM717.83 359.19L718.84 359.17L714.59 342.9L713.61 342.92ZM718.84 359.17L719.85 359.15L715.56 342.88L714.59 342.9ZM719.85 359.15L720.86 359.13L716.54 342.86L715.56 342.88ZM720.86 359.13L721.87 359.11L717.52 342.84L716.54 342.86ZM721.87 359.11L722.88 359.08L718.49 342.83L717.52 342.84ZM722.88 359.08L723.88 359.06L719.47 342.81L718.49 342.83ZM723.88 359.06L724.89 359.04L720.44 342.79L719.47 342.81ZM724.89 359.04L725.9 362.52L721.42 346.16L720.44 342.79ZM725.9 362.52L726.91 362.5L722.4 346.14L721.42 346.16ZM726.91 362.5L727.92 362.48L723.37 346.12L722.4 346.14ZM727.92 362.48L728.93 362.46L724.35 346.1L723.37 346.12ZM728.93 362.46L729.93 358.94L725.32 342.69L724.35 346.1ZM729.93 358.94L730.94 358.92L726.29 342.67L725.32 342.69ZM730.94 358.92L731.95 355.4L727.26 339.26L726.29 342.67ZM731.95 355.4L732.96 355.38L728.24 339.24L727.26 339.26ZM732.96 355.38L733.96 351.85L729.21 335.82L728.24 339.24ZM733.96 351.85L734.97 348.32L730.19 332.4L729.21 335.82ZM734.97 348.32L735.98 348.3L731.16 332.38L730.19 332.4ZM735.98 348.3L736.99 344.76L732.14 328.95L731.16 332.38ZM736.99 344.76L738.01 341.23L733.11 325.52L732.14 328.95ZM738.01 341.23L739.02 337.69L734.09 322.09L733.11 325.52ZM739.02 337.69L740.03 337.67L735.07 322.07L734.09 322.09ZM740.03 337.67L741.04 334.12L736.05 318.64L735.07 322.07ZM741.04 334.12L742.06 330.57L737.02 315.2L736.05 318.64ZM742.06 330.57L743.08 327.02L738.01 311.76L737.02 315.2ZM743.08 327.02L744.09 323.46L738.99 308.31L738.01 311.76ZM744.09 323.46L745.11 323.45L739.97 308.29L738.99 308.31ZM745.11 323.45L746.13 319.89L740.95 304.84L739.97 308.29ZM746.13 319.89L747.15 316.32L741.93 301.39L740.95 304.84ZM747.15 316.32L748.17 312.76L742.92 297.94L741.93 301.39ZM748.17 312.76L749.19 309.18L743.9 294.48L742.92 297.94ZM749.19 309.18L750.22 305.61L744.89 291.01L743.9 294.48ZM750.22 305.61L751.24 302.03L745.88 287.55L744.89 291.01ZM751.24 302.03L752.26 302.01L746.86 287.53L745.88 287.55ZM752.26 302.01L753.28 298.43L747.85 284.06L746.86 287.53ZM753.28 298.43L754.31 294.84L748.84 280.58L747.85 284.06ZM754.31 294.84L755.34 291.26L749.83 277.11L748.84 280.58ZM755.34 291.26L756.37 287.66L750.82 273.63L749.83 277.11ZM756.37 287.66L757.4 284.06L751.82 270.14L750.82 273.63ZM757.4 284.06L758.43 280.46L752.81 266.65L751.82 270.14ZM758.43 280.46L759.45 280.45L753.8 266.64L752.81 266.65ZM759.45 280.45L760.48 276.84L754.79 263.15L753.8 266.64ZM760.48 276.84L761.5 276.82L755.78 263.13L754.79 263.15ZM761.5 276.82L762.54 273.22L756.78 259.63L755.78 263.13ZM762.54 273.22L763.57 269.6L757.77 256.14L756.78 259.63ZM763.57 269.6L764.59 269.59L758.76 256.12L757.77 256.14ZM764.59 269.59L765.63 265.97L759.76 252.62L758.76 256.12ZM765.63 265.97L766.65 265.95L760.75 252.6L759.76 252.62ZM766.65 265.95L767.69 262.33L761.75 249.1L760.75 252.6ZM767.69 262.33L768.73 258.71L762.75 245.59L761.75 249.1ZM768.73 258.71L769.77 255.08L763.75 242.08L762.75 245.59ZM769.77 255.08L770.79 255.07L764.74 242.06L763.75 242.08ZM770.79 255.07L771.83 251.44L765.75 238.54L764.74 242.06ZM771.83 251.44L772.88 247.8L766.75 235.02L765.75 238.54ZM772.88 247.8L773.9 247.78L767.74 235.01L766.75 235.02ZM773.9 247.78L774.92 247.77L768.73 234.99L767.74 235.01ZM774.92 247.77L775.97 244.13L769.74 231.47L768.73 234.99ZM775.97 244.13L776.99 244.11L770.72 231.46L769.74 231.47ZM776.99 244.11L778.01 244.1L771.71 231.44L770.72 231.46ZM778.01 244.1L779.01 247.7L772.68 234.94L771.71 231.44ZM779.01 247.7L780.03 247.69L773.67 234.92L772.68 234.94ZM780.03 247.69L781.05 247.67L774.65 234.91L773.67 234.92ZM781.05 247.67L782.07 247.66L775.64 234.89L774.65 234.91ZM782.07 247.66L783.07 251.26L776.6 238.38L775.64 234.89ZM783.07 251.26L784.09 251.24L777.59 238.37L776.6 238.38ZM784.09 251.24L785.11 251.23L778.58 238.35L777.59 238.37ZM785.11 251.23L786.1 254.82L779.54 241.83L778.58 238.35ZM786.1 254.82L787.08 258.42L780.5 245.31L779.54 241.83ZM787.08 258.42L788.07 262L781.46 248.79L780.5 245.31ZM788.07 262L789.09 261.99L782.44 248.77L781.46 248.79ZM789.09 261.99L790.08 265.57L783.4 252.25L782.44 248.77ZM790.08 265.57L791.06 269.15L784.35 255.71L783.4 252.25ZM791.06 269.15L792.04 272.72L785.31 259.18L784.35 255.71ZM792.04 272.72L793.02 276.29L786.26 262.63L785.31 259.18ZM793.02 276.29L794.04 276.27L787.24 262.62L786.26 262.63ZM794.04 276.27L795.02 279.84L788.19 266.07L787.24 262.62ZM795.02 279.84L796 283.4L789.14 269.52L788.19 266.07ZM796 283.4L796.98 286.96L790.09 272.97L789.14 269.52ZM796.98 286.96L797.95 290.51L791.04 276.41L790.09 272.97ZM797.95 290.51L798.89 297.62L791.95 283.3L791.04 276.41ZM798.89 297.62L799.83 304.71L792.87 290.17L791.95 283.3ZM799.83 304.71L800.76 311.78L793.78 297.03L792.87 290.17ZM800.76 311.78L801.73 315.3L794.72 300.44L793.78 297.03ZM801.73 315.3L802.66 322.35L795.62 307.27L794.72 300.44ZM802.66 322.35L803.62 325.86L796.56 310.68L795.62 307.27ZM803.62 325.86L804.59 329.36L797.5 314.07L796.56 310.68ZM804.59 329.36L805.51 336.38L798.4 320.87L797.5 314.07ZM805.51 336.38L806.48 339.87L799.34 324.26L798.4 320.87ZM806.48 339.87L807.39 346.86L800.24 331.04L799.34 324.26ZM807.39 346.86L808.35 350.34L801.17 334.41L800.24 331.04ZM808.35 350.34L809.31 353.81L802.1 337.78L801.17 334.41ZM809.31 353.81L810.23 360.77L802.99 344.53L802.1 337.78ZM810.23 360.77L811.14 367.71L803.88 351.26L802.99 344.53ZM811.14 367.71L812.09 371.16L804.81 354.61L803.88 351.26ZM812.09 371.16L813 378.08L805.69 361.31L804.81 354.61ZM813 378.08L813.95 381.52L806.62 364.65L805.69 361.31ZM813.95 381.52L814.86 388.41L807.5 371.34L806.62 364.65ZM814.86 388.41L815.76 395.28L808.38 378.01L807.5 371.34ZM815.76 395.28L816.7 398.7L809.3 381.32L808.38 378.01ZM816.7 398.7L817.6 405.55L810.18 387.97L809.3 381.32ZM817.6 405.55L818.55 408.96L811.1 391.28L810.18 387.97ZM818.55 408.96L819.44 415.79L811.97 397.9L811.1 391.28ZM819.44 415.79L820.38 419.18L812.89 401.2L811.97 397.9ZM820.38 419.18L821.27 425.98L813.76 407.8L812.89 401.2ZM821.27 425.98L822.21 429.37L814.67 411.08L813.76 407.8ZM822.21 429.37L823.1 436.14L815.53 417.66L814.67 411.08ZM823.1 436.14L824.03 439.51L816.44 420.93L815.53 417.66ZM824.03 439.51L824.92 446.27L817.31 427.49L816.44 420.93ZM824.92 446.27L825.8 453.01L818.17 434.03L817.31 427.49ZM825.8 453.01L826.73 456.36L819.07 437.28L818.17 434.03ZM826.73 456.36L827.61 463.07L819.93 443.8L819.07 437.28ZM827.61 463.07L828.48 469.77L820.79 450.3L819.93 443.8ZM828.48 469.77L829.41 473.1L821.69 453.54L820.79 450.3ZM829.41 473.1L830.28 479.78L822.54 460.02L821.69 453.54ZM830.28 479.78L831.2 483.1L823.44 463.24L822.54 460.02ZM831.2 483.1L832.07 489.75L824.29 469.71L823.44 463.24ZM832.07 489.75L832.99 493.05L825.19 472.92L824.29 469.71ZM832.99 493.05L833.91 496.36L826.08 476.13L825.19 472.92ZM833.91 496.36L834.83 499.66L826.98 479.33L826.08 476.13ZM834.83 499.66L835.75 502.95L827.87 482.53L826.98 479.33ZM835.75 502.95L836.67 506.24L828.76 485.73L827.87 482.53ZM836.67 506.24L837.58 509.53L829.65 488.92L828.76 485.73ZM837.58 509.53L838.5 512.81L830.54 492.11L829.65 488.92ZM838.5 512.81L839.47 512.79L831.48 492.09L830.54 492.11ZM839.47 512.79L840.38 516.07L832.37 495.27L831.48 492.09ZM840.38 516.07L841.3 519.34L833.26 498.46L832.37 495.27ZM841.3 519.34L842.27 519.31L834.2 498.43L833.26 498.46ZM842.27 519.31L843.18 522.59L835.09 501.61L834.2 498.43ZM843.18 522.59L844.09 525.85L835.97 504.79L835.09 501.61ZM844.09 525.85L845.06 525.83L836.91 504.76L835.97 504.79ZM845.06 525.83L845.96 529.09L837.79 507.93L836.91 504.76ZM845.96 529.09L846.93 529.06L838.73 507.91L837.79 507.93ZM846.93 529.06L847.84 532.32L839.61 511.07L838.73 507.91ZM847.84 532.32L848.81 532.29L840.55 511.05L839.61 511.07ZM848.81 532.29L849.78 532.26L841.49 511.02L840.55 511.05ZM849.78 532.26L850.68 535.52L842.37 514.18L841.49 511.02ZM850.68 535.52L851.65 535.49L843.3 514.16L842.37 514.18ZM851.65 535.49L852.61 535.46L844.24 514.13L843.3 514.16ZM852.61 535.46L853.58 535.44L845.18 514.11L844.24 514.13ZM853.58 535.44L854.55 535.41L846.11 514.08L845.18 514.11ZM854.55 535.41L855.45 538.66L846.99 517.24L846.11 514.08ZM855.45 538.66L856.41 538.63L847.93 517.21L846.99 517.24ZM856.41 538.63L857.38 538.6L848.86 517.19L847.93 517.21ZM857.38 538.6L858.35 538.57L849.8 517.16L848.86 517.19ZM858.35 538.57L859.31 538.55L850.73 517.13L849.8 517.16ZM859.31 538.55L860.28 538.52L851.67 517.11L850.73 517.13ZM860.28 538.52L861.25 538.49L852.61 517.08L851.67 517.11ZM861.25 538.49L862.14 541.74L853.48 520.24L852.61 517.08ZM862.14 541.74L863.11 541.71L854.41 520.21L853.48 520.24ZM863.11 541.71L864.07 541.68L855.35 520.18L854.41 520.21ZM864.07 541.68L865.04 541.65L856.28 520.16L855.35 520.18ZM865.04 541.65L866 541.62L857.22 520.13L856.28 520.16ZM866 541.62L866.97 541.6L858.15 520.11L857.22 520.13ZM866.97 541.6L867.93 541.57L859.09 520.08L858.15 520.11ZM867.93 541.57L868.9 541.54L860.02 520.05L859.09 520.08ZM868.9 541.54L869.86 541.51L860.95 520.03L860.02 520.05ZM869.86 541.51L870.83 541.48L861.89 520L860.95 520.03ZM870.83 541.48L871.71 544.72L862.75 523.15L861.89 520ZM871.71 544.72L872.68 544.7L863.69 523.12L862.75 523.15ZM872.68 544.7L873.64 544.67L864.62 523.1L863.69 523.12ZM873.64 544.67L874.61 544.64L865.56 523.07L864.62 523.1ZM874.61 544.64L875.57 544.61L866.49 523.04L865.56 523.07ZM875.57 544.61L876.53 544.58L867.42 523.02L866.49 523.04ZM876.53 544.58L877.5 544.55L868.36 522.99L867.42 523.02ZM877.5 544.55L878.46 544.53L869.29 522.97L868.36 522.99ZM878.46 544.53L879.42 544.5L870.22 522.94L869.29 522.97ZM879.42 544.5L880.39 544.47L871.15 522.91L870.22 522.94ZM880.39 544.47L881.35 544.44L872.09 522.89L871.15 522.91ZM881.35 544.44L882.31 544.41L873.02 522.86L872.09 522.89ZM882.31 544.41L883.28 544.38L873.95 522.83L873.02 522.86ZM883.28 544.38L884.24 544.36L874.89 522.81L873.95 522.83ZM884.24 544.36L885.2 544.33L875.82 522.78L874.89 522.81ZM885.2 544.33L886.16 544.3L876.75 522.75L875.82 522.78ZM886.16 544.3L887.13 544.27L877.68 522.73L876.75 522.75ZM887.13 544.27L888.09 544.24L878.62 522.7L877.68 522.73ZM888.09 544.24L889.05 544.22L879.55 522.67L878.62 522.7ZM889.05 544.22L890.01 544.19L880.48 522.65L879.55 522.67ZM890.01 544.19L890.98 544.16L881.41 522.62L880.48 522.65ZM890.98 544.16L891.94 544.13L882.34 522.6L881.41 522.62ZM891.94 544.13L892.9 544.1L883.28 522.57L882.34 522.6ZM892.9 544.1L893.86 544.07L884.21 522.54L883.28 522.57ZM893.86 544.07L894.83 544.05L885.14 522.52L884.21 522.54ZM894.83 544.05L895.79 544.02L886.07 522.49L885.14 522.52ZM895.79 544.02L896.75 543.99L887 522.46L886.07 522.49ZM896.75 543.99L897.71 543.96L887.94 522.44L887 522.46ZM897.71 543.96L898.67 543.93L888.87 522.41L887.94 522.44ZM898.67 543.93L899.63 543.9L889.8 522.38L888.87 522.41ZM899.63 543.9L900.6 543.88L890.73 522.36L889.8 522.38ZM900.6 543.88L901.56 543.85L891.66 522.33L890.73 522.36ZM901.56 543.85L902.52 543.82L892.59 522.31L891.66 522.33ZM902.52 543.82L903.48 543.79L893.52 522.28L892.59 522.31ZM903.48 543.79L904.44 543.76L894.45 522.25L893.52 522.28ZM904.44 543.76L905.4 543.74L895.39 522.23L894.45 522.25ZM905.4 543.74L906.36 543.71L896.32 522.2L895.39 522.23ZM906.36 543.71L907.32 543.68L897.25 522.17L896.32 522.2ZM907.32 543.68L908.28 543.65L898.18 522.15L897.25 522.17ZM908.28 543.65L909.24 543.62L899.11 522.12L898.18 522.15ZM909.24 543.62L910.21 543.59L900.04 522.09L899.11 522.12ZM910.21 543.59L911.17 543.57L900.97 522.07L900.04 522.09ZM911.17 543.57L912.13 543.54L901.9 522.04L900.97 522.07ZM912.13 543.54L913.09 543.51L902.83 522.01L901.9 522.04ZM913.09 543.51L914.05 543.48L903.76 521.99L902.83 522.01ZM914.05 543.48L915.01 543.45L904.69 521.96L903.76 521.99ZM915.01 543.45L915.97 543.43L905.62 521.94L904.69 521.96ZM915.97 543.43L916.93 543.4L906.55 521.91L905.62 521.94ZM916.93 543.4L917.89 543.37L907.48 521.88L906.55 521.91ZM917.89 543.37L918.85 543.34L908.41 521.86L907.48 521.88ZM918.85 543.34L919.81 543.31L909.34 521.83L908.41 521.86ZM919.81 543.31L920.77 543.28L910.27 521.8L909.34 521.83ZM920.77 543.28L921.73 543.26L911.2 521.78L910.27 521.8ZM921.73 543.26L922.69 543.23L912.13 521.75L911.2 521.78ZM922.69 543.23L923.65 543.2L913.06 521.73L912.13 521.75ZM923.65 543.2L924.6 543.17L913.99 521.7L913.06 521.73ZM924.6 543.17L925.56 543.14L914.92 521.67L913.99 521.7ZM925.56 543.14L926.52 543.12L915.85 521.65L914.92 521.67Z" fill="#0000ff" stroke="#0000ff" stroke-width="0.5" stroke-linejoin="round"/>
<path d="M527.35 404.52L528.42 404.49L530.49 386.44L529.45 386.46ZM528.42 404.49L529.49 404.47L531.52 386.42L530.49 386.44ZM529.49 404.47L530.68 408.1L532.68 389.94L531.52 386.42ZM530.68 408.1L531.75 408.08L533.71 389.92L532.68 389.94ZM531.75 408.08L532.82 408.05L534.74 389.89L533.71 389.92ZM532.82 408.05L534.01 411.68L535.89 393.41L534.74 389.89ZM534.01 411.68L535.08 411.65L536.93 393.39L535.89 393.41ZM535.08 411.65L536.15 411.63L537.96 393.37L536.93 393.39ZM536.15 411.63L537.34 415.25L539.11 396.88L537.96 393.37ZM537.34 415.25L538.41 415.23L540.14 396.85L539.11 396.88ZM538.41 415.23L539.47 415.2L541.17 396.83L540.14 396.85ZM539.47 415.2L540.66 418.82L542.31 400.34L541.17 396.83ZM540.66 418.82L541.73 418.79L543.35 400.32L542.31 400.34ZM541.73 418.79L542.91 422.4L544.49 403.82L543.35 400.32ZM542.91 422.4L543.97 422.38L545.52 403.79L544.49 403.82ZM543.97 422.38L545.15 425.99L546.66 407.29L545.52 403.79ZM545.15 425.99L546.22 425.96L547.69 407.27L546.66 407.29ZM546.22 425.96L547.4 429.56L548.82 410.76L547.69 407.27ZM547.4 429.56L548.46 429.54L549.85 410.74L548.82 410.76ZM548.46 429.54L549.64 433.14L550.99 414.23L549.85 410.74ZM549.64 433.14L550.7 433.11L552.02 414.2L550.99 414.23ZM550.7 433.11L551.87 436.7L553.15 417.69L552.02 414.2ZM551.87 436.7L552.94 436.68L554.18 417.67L553.15 417.69ZM552.94 436.68L554.11 440.26L555.31 421.15L554.18 417.67ZM554.11 440.26L555.17 440.24L556.33 421.12L555.31 421.15ZM555.17 440.24L556.34 443.82L557.46 424.6L556.33 421.12ZM556.34 443.82L557.4 443.8L558.49 424.57L557.46 424.6ZM557.4 443.8L558.56 447.37L559.61 428.04L558.49 424.57ZM558.56 447.37L559.62 447.35L560.64 428.02L559.61 428.04ZM559.62 447.35L560.79 450.92L561.76 431.49L560.64 428.02ZM560.79 450.92L561.85 450.9L562.79 431.46L561.76 431.49ZM561.85 450.9L563.01 454.46L563.91 434.92L562.79 431.46ZM563.01 454.46L564.07 454.44L564.93 434.9L563.91 434.92ZM564.07 454.44L565.23 458L566.05 438.36L564.93 434.9ZM565.23 458L566.28 457.97L567.08 438.33L566.05 438.36ZM566.28 457.97L567.44 461.53L568.19 441.78L567.08 438.33ZM567.44 461.53L568.5 461.51L569.22 441.76L568.19 441.78ZM568.5 461.51L569.65 465.06L570.33 445.21L569.22 441.76ZM569.65 465.06L570.81 468.61L571.45 448.65L570.33 445.21ZM570.81 468.61L571.86 468.58L572.47 448.63L571.45 448.65ZM571.86 468.58L573.01 472.13L573.58 452.07L572.47 448.63ZM573.01 472.13L574.07 472.1L574.6 452.04L573.58 452.07ZM574.07 472.1L575.12 472.08L575.62 452.02L574.6 452.04ZM575.12 472.08L576.27 475.62L576.73 455.45L575.62 452.02ZM576.27 475.62L577.32 475.59L577.75 455.43L576.73 455.45ZM577.32 475.59L578.47 479.12L578.85 458.86L577.75 455.43ZM578.47 479.12L579.52 479.1L579.87 458.83L578.85 458.86ZM579.52 479.1L580.58 479.07L580.89 458.81L579.87 458.83ZM580.58 479.07L581.72 482.6L582 462.23L580.89 458.81ZM581.72 482.6L582.77 482.57L583.01 462.21L582 462.23ZM582.77 482.57L583.82 482.54L584.03 462.18L583.01 462.21ZM583.82 482.54L584.87 482.52L585.05 462.16L584.03 462.18ZM584.87 482.52L586.01 486.04L586.15 465.58L585.05 462.16ZM586.01 486.04L587.06 486.02L587.17 465.55L586.15 465.58ZM587.06 486.02L588.12 485.99L588.18 465.53L587.17 465.55ZM588.12 485.99L589.17 485.96L589.2 465.5L588.18 465.53ZM589.17 485.96L590.22 485.93L590.21 465.48L589.2 465.5ZM590.22 485.93L591.27 485.9L591.23 465.45L590.21 465.48ZM591.27 485.9L592.4 489.42L592.33 468.87L591.23 465.45ZM592.4 489.42L593.45 489.4L593.34 468.84L592.33 468.87ZM593.45 489.4L594.5 489.37L594.36 468.81L593.34 468.84ZM594.5 489.37L595.55 489.34L595.37 468.79L594.36 468.81ZM595.55 489.34L596.6 489.31L596.39 468.76L595.37 468.79ZM596.6 489.31L597.65 489.29L597.4 468.74L596.39 468.76ZM597.65 489.29L598.7 489.26L598.42 468.71L597.4 468.74ZM598.7 489.26L599.75 489.23L599.43 468.69L598.42 468.71ZM599.75 489.23L600.88 492.75L600.52 472.1L599.43 468.69ZM600.88 492.75L601.92 492.72L601.53 472.07L600.52 472.1ZM601.92 492.72L602.97 492.69L602.55 472.04L601.53 472.07ZM602.97 492.69L604.02 492.66L603.56 472.02L602.55 472.04ZM604.02 492.66L605.07 492.63L604.58 471.99L603.56 472.02ZM605.07 492.63L606.12 492.61L605.59 471.97L604.58 471.99ZM606.12 492.61L607.16 492.58L606.6 471.94L605.59 471.97ZM607.16 492.58L608.21 492.55L607.62 471.91L606.6 471.94ZM608.21 492.55L609.26 492.52L608.63 471.89L607.62 471.91ZM609.26 492.52L610.38 496.03L609.71 475.29L608.63 471.89ZM610.38 496.03L611.43 496L610.73 475.27L609.71 475.29ZM611.43 496L612.47 495.98L611.74 475.24L610.73 475.27ZM612.47 495.98L613.52 495.95L612.75 475.22L611.74 475.24ZM613.52 495.95L614.57 495.92L613.76 475.19L612.75 475.22ZM614.57 495.92L615.61 495.89L614.77 475.16L613.76 475.19ZM615.61 495.89L616.66 495.86L615.79 475.14L614.77 475.16ZM616.66 495.86L617.71 495.84L616.8 475.11L615.79 475.14ZM617.71 495.84L618.75 495.81L617.81 475.09L616.8 475.11ZM618.75 495.81L619.87 499.31L618.89 478.49L617.81 475.09ZM619.87 499.31L620.91 499.28L619.9 478.46L618.89 478.49ZM620.91 499.28L621.96 499.25L620.91 478.43L619.9 478.46ZM621.96 499.25L623 499.23L621.92 478.41L620.91 478.43ZM623 499.23L624.05 499.2L622.93 478.38L621.92 478.41ZM624.05 499.2L625.09 499.17L623.94 478.36L622.93 478.38ZM625.09 499.17L626.14 499.14L624.95 478.33L623.94 478.36ZM626.14 499.14L627.18 499.11L625.96 478.3L624.95 478.33ZM627.18 499.11L628.23 499.09L626.97 478.28L625.96 478.3ZM628.23 499.09L629.27 499.06L627.98 478.25L626.97 478.28ZM629.27 499.06L630.31 499.03L628.99 478.22L627.98 478.25ZM630.31 499.03L631.36 499L630 478.2L628.99 478.22ZM631.36 499L632.4 498.97L631.01 478.17L630 478.2ZM632.4 498.97L633.45 498.94L632.02 478.15L631.01 478.17ZM633.45 498.94L634.49 498.92L633.03 478.12L632.02 478.15ZM634.49 498.92L635.54 498.89L634.04 478.09L633.03 478.12ZM635.54 498.89L636.58 498.86L635.05 478.07L634.04 478.09ZM636.58 498.86L637.62 498.83L636.06 478.04L635.05 478.07ZM637.62 498.83L638.67 498.8L637.07 478.01L636.06 478.04ZM638.67 498.8L639.71 498.78L638.08 477.99L637.07 478.01ZM639.71 498.78L640.75 498.75L639.09 477.96L638.08 477.99ZM640.75 498.75L641.8 498.72L640.1 477.94L639.09 477.96ZM641.8 498.72L642.84 498.69L641.11 477.91L640.1 477.94ZM642.84 498.69L643.88 498.66L642.12 477.88L641.11 477.91ZM643.88 498.66L644.93 498.64L643.12 477.86L642.12 477.88ZM644.93 498.64L645.97 498.61L644.13 477.83L643.12 477.86ZM645.97 498.61L647.01 498.58L645.14 477.8L644.13 477.83ZM647.01 498.58L648.05 498.55L646.15 477.78L645.14 477.8ZM648.05 498.55L649.05 495L647.11 474.33L646.15 477.78ZM649.05 495L650.09 494.97L648.12 474.3L647.11 474.33ZM650.09 494.97L651.13 494.94L649.13 474.28L648.12 474.3ZM651.13 494.94L652.18 494.91L650.14 474.25L649.13 474.28ZM652.18 494.91L653.22 494.88L651.14 474.23L650.14 474.25ZM653.22 494.88L654.26 494.86L652.15 474.2L651.14 474.23ZM654.26 494.86L655.3 494.83L653.16 474.17L652.15 474.2ZM655.3 494.83L656.35 494.8L654.17 474.15L653.16 474.17ZM656.35 494.8L657.39 494.77L655.18 474.12L654.17 474.15ZM657.39 494.77L658.43 494.75L656.19 474.09L655.18 474.12ZM658.43 494.75L659.47 494.72L657.19 474.07L656.19 474.09ZM659.47 494.72L660.52 494.69L658.2 474.04L657.19 474.07ZM660.52 494.69L661.52 491.13L659.17 470.59L658.2 474.04ZM661.52 491.13L662.56 491.1L660.18 470.57L659.17 470.59ZM662.56 491.1L663.6 491.08L661.18 470.54L660.18 470.57ZM663.6 491.08L664.64 491.05L662.19 470.51L661.18 470.54ZM664.64 491.05L665.69 491.02L663.2 470.49L662.19 470.51ZM665.69 491.02L666.69 487.46L664.17 467.03L663.2 470.49ZM666.69 487.46L667.73 487.43L665.18 467.01L664.17 467.03ZM667.73 487.43L668.77 487.4L666.19 466.98L665.18 467.01ZM668.77 487.4L669.78 483.84L667.16 463.52L666.19 466.98ZM669.78 483.84L670.82 483.81L668.17 463.5L667.16 463.52ZM670.82 483.81L671.83 480.25L669.14 460.04L668.17 463.5ZM671.83 480.25L672.87 480.22L670.15 460.01L669.14 460.04ZM672.87 480.22L673.92 480.19L671.16 459.99L670.15 460.01ZM673.92 480.19L674.92 476.62L672.13 456.52L671.16 459.99ZM674.92 476.62L675.97 476.59L673.14 456.5L672.13 456.52ZM675.97 476.59L676.98 473.02L674.11 453.03L673.14 456.5ZM676.98 473.02L677.99 469.44L675.09 449.56L674.11 453.03ZM677.99 469.44L679.03 469.41L676.1 449.53L675.09 449.56ZM679.03 469.41L680.05 465.83L677.08 446.06L676.1 449.53ZM680.05 465.83L681.09 465.8L678.09 446.03L677.08 446.06ZM681.09 465.8L682.11 462.22L679.07 442.55L678.09 446.03ZM682.11 462.22L683.12 458.62L680.05 439.07L679.07 442.55ZM683.12 458.62L684.17 458.6L681.06 439.05L680.05 439.07ZM684.17 458.6L685.19 455L682.04 435.56L681.06 439.05ZM685.19 455L686.23 454.98L683.06 435.54L682.04 435.56ZM686.23 454.98L687.25 451.38L684.04 432.05L683.06 435.54ZM687.25 451.38L688.27 447.78L685.02 428.56L684.04 432.05ZM688.27 447.78L689.32 447.75L686.04 428.53L685.02 428.56ZM689.32 447.75L690.34 444.15L687.02 425.03L686.04 428.53ZM690.34 444.15L691.39 444.12L688.04 425.01L687.02 425.03ZM691.39 444.12L692.41 440.51L689.02 421.51L688.04 425.01ZM692.41 440.51L693.44 436.9L690.01 418.01L689.02 421.51ZM693.44 436.9L694.48 436.87L691.03 417.98L690.01 418.01ZM694.48 436.87L695.51 433.26L692.02 414.48L691.03 417.98ZM695.51 433.26L696.56 433.23L693.03 414.45L692.02 414.48ZM696.56 433.23L697.59 429.61L694.02 410.94L693.03 414.45ZM697.59 429.61L698.62 425.98L695.02 407.43L694.02 410.94ZM698.62 425.98L699.67 425.96L696.03 407.4L695.02 407.43ZM699.67 425.96L700.7 422.33L697.03 403.89L696.03 407.4ZM700.7 422.33L701.75 422.31L698.04 403.86L697.03 403.89ZM701.75 422.31L702.78 418.67L699.04 400.34L698.04 403.86ZM702.78 418.67L703.83 418.65L700.05 400.32L699.04 400.34ZM703.83 418.65L704.86 415.01L701.05 396.79L700.05 400.32ZM704.86 415.01L705.9 411.37L702.05 393.26L701.05 396.79ZM705.9 411.37L706.95 411.35L703.07 393.24L702.05 393.26ZM706.95 411.35L707.99 407.7L704.07 389.71L703.07 393.24ZM707.99 407.7L709.02 404.06L705.07 386.17L704.07 389.71ZM709.02 404.06L710.06 400.4L706.07 382.63L705.07 386.17ZM710.06 400.4L711.1 396.75L707.07 379.09L706.07 382.63ZM711.1 396.75L712.14 393.09L708.08 375.54L707.07 379.09ZM712.14 393.09L713.17 385.78L709.07 368.46L708.08 375.54ZM713.17 385.78L714.22 382.11L710.08 364.9L709.07 368.46ZM714.22 382.11L715.26 378.43L711.08 361.33L710.08 364.9ZM715.26 378.43L716.31 374.75L712.09 357.77L711.08 361.33ZM716.31 374.75L717.36 371.06L713.1 354.2L712.09 357.77ZM717.36 371.06L718.41 367.38L714.11 350.62L713.1 354.2ZM718.41 367.38L719.46 367.35L715.14 350.6L714.11 350.62ZM719.46 367.35L720.52 367.33L716.16 350.58L715.14 350.6ZM720.52 367.33L721.58 367.31L717.18 350.56L716.16 350.58ZM721.58 367.31L722.64 367.29L718.21 350.54L717.18 350.56ZM722.64 367.29L723.7 367.26L719.23 350.52L718.21 350.54ZM723.7 367.26L724.75 367.24L720.25 350.5L719.23 350.52ZM724.75 367.24L725.81 367.22L721.27 350.48L720.25 350.5ZM725.81 367.22L726.87 367.2L722.3 350.46L721.27 350.48ZM726.87 367.2L727.93 370.84L723.32 353.99L722.3 350.46ZM727.93 370.84L728.99 370.82L724.35 353.97L723.32 353.99ZM728.99 370.82L730.04 370.8L725.37 353.95L724.35 353.97ZM730.04 370.8L731.1 374.43L726.39 357.47L725.37 353.95ZM731.1 374.43L732.16 374.41L727.41 357.45L726.39 357.47ZM732.16 374.41L733.21 374.39L728.43 357.43L727.41 357.45ZM733.21 374.39L734.27 378.02L729.46 360.95L728.43 357.43ZM734.27 378.02L735.32 378L730.48 360.93L729.46 360.95ZM735.32 378L736.38 377.98L731.5 360.91L730.48 360.93ZM736.38 377.98L737.43 377.95L732.52 360.89L731.5 360.91ZM737.43 377.95L738.49 377.93L733.54 360.87L732.52 360.89ZM738.49 377.93L739.55 374.25L734.56 357.31L733.54 360.87ZM739.55 374.25L740.6 374.23L735.58 357.29L734.56 357.31ZM740.6 374.23L741.66 374.21L736.6 357.26L735.58 357.29ZM741.66 374.21L742.72 370.53L737.62 353.7L736.6 357.26ZM742.72 370.53L743.78 366.84L738.64 350.13L737.62 353.7ZM743.78 366.84L744.83 366.82L739.66 350.11L738.64 350.13ZM744.83 366.82L745.9 363.13L740.69 346.53L739.66 350.11ZM745.9 363.13L746.95 363.11L741.71 346.51L740.69 346.53ZM746.95 363.11L748.02 359.42L742.73 342.93L741.71 346.51ZM748.02 359.42L749.08 355.72L743.76 339.35L742.73 342.93ZM749.08 355.72L750.15 352.02L744.79 335.77L743.76 339.35ZM750.15 352.02L751.21 352L745.81 335.75L744.79 335.77ZM751.21 352L752.28 348.29L746.84 332.16L745.81 335.75ZM752.28 348.29L753.35 344.59L747.87 328.57L746.84 332.16ZM753.35 344.59L754.42 340.87L748.91 324.97L747.87 328.57ZM754.42 340.87L755.48 340.85L749.93 324.95L748.91 324.97ZM755.48 340.85L756.55 337.14L750.97 321.35L749.93 324.95ZM756.55 337.14L757.62 333.41L752 317.74L750.97 321.35ZM757.62 333.41L758.68 333.39L753.02 317.73L752 317.74ZM758.68 333.39L759.76 329.67L754.06 314.12L753.02 317.73ZM759.76 329.67L760.84 325.94L755.1 310.51L754.06 314.12ZM760.84 325.94L761.9 325.92L756.13 310.49L755.1 310.51ZM761.9 325.92L762.98 322.19L757.16 306.87L756.13 310.49ZM762.98 322.19L764.06 318.45L758.21 303.25L757.16 306.87ZM764.06 318.45L765.12 318.43L759.23 303.23L758.21 303.25ZM765.12 318.43L766.2 314.69L760.27 299.61L759.23 303.23ZM766.2 314.69L767.28 310.94L761.32 295.98L760.27 299.61ZM767.28 310.94L768.35 310.92L762.34 295.96L761.32 295.98ZM768.35 310.92L769.43 307.18L763.39 292.33L762.34 295.96ZM769.43 307.18L770.52 303.42L764.44 288.7L763.39 292.33ZM770.52 303.42L771.6 299.66L765.48 285.06L764.44 288.7ZM771.6 299.66L772.69 295.9L766.53 281.42L765.48 285.06ZM772.69 295.9L773.76 295.88L767.56 281.4L766.53 281.42ZM773.76 295.88L774.85 292.12L768.61 277.75L767.56 281.4ZM774.85 292.12L775.94 288.35L769.66 274.1L768.61 277.75ZM775.94 288.35L777.01 288.33L770.69 274.09L769.66 274.1ZM777.01 288.33L778.1 284.56L771.74 270.43L770.69 274.09ZM778.1 284.56L779.19 280.78L772.8 266.77L771.74 270.43ZM779.19 280.78L780.26 280.76L773.83 266.76L772.8 266.77ZM780.26 280.76L781.33 280.74L774.86 266.74L773.83 266.76ZM781.33 280.74L782.42 276.96L775.92 263.08L774.86 266.74ZM782.42 276.96L783.49 276.94L776.95 263.06L775.92 263.08ZM783.49 276.94L784.56 276.92L777.98 263.05L776.95 263.06ZM784.56 276.92L785.62 276.91L779.01 263.03L777.98 263.05ZM785.62 276.91L786.69 276.89L780.04 263.01L779.01 263.03ZM786.69 276.89L787.76 276.87L781.07 263L780.04 263.01ZM787.76 276.87L788.83 276.85L782.1 262.98L781.07 263ZM788.83 276.85L789.86 280.6L783.11 266.61L782.1 262.98ZM789.86 280.6L790.92 280.58L784.14 266.59L783.11 266.61ZM790.92 280.58L791.99 280.56L785.17 266.57L784.14 266.59ZM791.99 280.56L793.02 284.3L786.17 270.19L785.17 266.57ZM793.02 284.3L794.09 284.28L787.2 270.18L786.17 270.19ZM794.09 284.28L795.15 284.26L788.23 270.16L787.2 270.18ZM795.15 284.26L796.18 288L789.22 273.78L788.23 270.16ZM796.18 288L797.24 287.98L790.25 273.76L789.22 273.78ZM797.24 287.98L798.27 291.71L791.25 277.37L790.25 273.76ZM798.27 291.71L799.33 291.69L792.27 277.35L791.25 277.37ZM799.33 291.69L800.35 295.41L793.27 280.96L792.27 277.35ZM800.35 295.41L801.42 295.39L794.29 280.94L793.27 280.96ZM801.42 295.39L802.44 299.11L795.28 284.55L794.29 280.94ZM802.44 299.11L803.5 299.09L796.31 284.53L795.28 284.55ZM803.5 299.09L804.52 302.81L797.3 288.13L796.31 284.53ZM804.52 302.81L805.53 306.52L798.29 291.72L797.3 288.13ZM805.53 306.52L806.55 310.22L799.27 295.31L798.29 291.72ZM806.55 310.22L807.56 313.92L800.26 298.89L799.27 295.31ZM807.56 313.92L808.58 317.61L801.24 302.47L800.26 298.89ZM808.58 317.61L809.59 321.3L802.23 306.05L801.24 302.47ZM809.59 321.3L810.6 324.99L803.21 309.62L802.23 306.05ZM810.6 324.99L811.61 328.67L804.19 313.19L803.21 309.62ZM811.61 328.67L812.57 336.03L805.12 320.32L804.19 313.19ZM812.57 336.03L813.58 339.7L806.1 323.88L805.12 320.32ZM813.58 339.7L814.58 343.36L807.08 327.43L806.1 323.88ZM814.58 343.36L815.54 350.69L808.01 334.53L807.08 327.43ZM815.54 350.69L816.49 358L808.94 341.62L808.01 334.53ZM816.49 358L817.49 361.64L809.91 345.14L808.94 341.62ZM817.49 361.64L818.44 368.92L810.84 352.2L809.91 345.14ZM818.44 368.92L819.38 376.19L811.76 359.25L810.84 352.2ZM819.38 376.19L820.33 383.44L812.68 366.28L811.76 359.25ZM820.33 383.44L821.27 390.67L813.6 373.29L812.68 366.28ZM821.27 390.67L822.21 397.88L814.52 380.28L813.6 373.29ZM822.21 397.88L823.19 401.47L815.48 383.76L814.52 380.28ZM823.19 401.47L824.13 408.65L816.39 390.73L815.48 383.76ZM824.13 408.65L825.12 412.23L817.35 394.2L816.39 390.73ZM825.12 412.23L826.1 415.8L818.31 397.66L817.35 394.2ZM826.1 415.8L827.03 422.95L819.21 404.59L818.31 397.66ZM827.03 422.95L828.01 426.5L820.17 408.04L819.21 404.59ZM828.01 426.5L828.99 430.05L821.12 411.49L820.17 408.04ZM828.99 430.05L829.91 437.17L822.02 418.39L821.12 411.49ZM829.91 437.17L830.89 440.7L822.97 421.82L822.02 418.39ZM830.89 440.7L831.81 447.79L823.87 428.7L822.97 421.82ZM831.81 447.79L832.79 451.32L824.82 432.12L823.87 428.7ZM832.79 451.32L833.7 458.38L825.71 438.98L824.82 432.12ZM833.7 458.38L834.67 461.89L826.66 442.38L825.71 438.98ZM834.67 461.89L835.58 468.93L827.55 449.21L826.66 442.38ZM835.58 468.93L836.55 472.42L828.49 452.61L827.55 449.21ZM836.55 472.42L837.46 479.43L829.38 459.41L828.49 452.61ZM837.46 479.43L838.42 482.92L830.32 462.8L829.38 459.41ZM838.42 482.92L839.39 486.4L831.25 466.17L830.32 462.8ZM839.39 486.4L840.35 489.87L832.19 469.55L831.25 466.17ZM840.35 489.87L841.31 493.35L833.13 472.92L832.19 469.55ZM841.31 493.35L842.27 496.81L834.06 476.29L833.13 472.92ZM842.27 496.81L843.23 500.28L834.99 479.65L834.06 476.29ZM843.23 500.28L844.26 500.25L835.98 479.62L834.99 479.65ZM844.26 500.25L845.22 503.71L836.92 482.98L835.98 479.62ZM845.22 503.71L846.17 507.16L837.85 486.34L836.92 482.98ZM846.17 507.16L847.13 510.61L838.78 489.69L837.85 486.34ZM847.13 510.61L848.15 510.58L839.76 489.66L838.78 489.69ZM848.15 510.58L849.1 514.03L840.69 493.01L839.76 489.66ZM849.1 514.03L850.12 514L841.68 492.98L840.69 493.01ZM850.12 514L851.07 517.44L842.6 496.32L841.68 492.98ZM851.07 517.44L852.02 520.88L843.53 499.66L842.6 496.32ZM852.02 520.88L853.04 520.85L844.51 499.63L843.53 499.66ZM853.04 520.85L853.99 524.28L845.44 502.97L844.51 499.63ZM853.99 524.28L854.94 527.71L846.36 506.3L845.44 502.97ZM854.94 527.71L855.95 527.68L847.34 506.27L846.36 506.3ZM855.95 527.68L856.9 531.1L848.26 509.6L847.34 506.27ZM856.9 531.1L857.84 534.52L849.18 512.92L848.26 509.6ZM857.84 534.52L858.79 537.94L850.1 516.23L849.18 512.92ZM858.79 537.94L859.8 537.91L851.08 516.21L850.1 516.23ZM859.8 537.91L860.74 541.32L852 519.52L851.08 516.21ZM860.74 541.32L861.68 544.72L852.91 522.83L852 519.52ZM861.68 544.72L862.7 544.69L853.9 522.8L852.91 522.83ZM862.7 544.69L863.63 548.1L854.81 526.11L853.9 522.8ZM863.63 548.1L864.65 548.07L855.79 526.08L854.81 526.11ZM864.65 548.07L865.58 551.46L856.7 529.38L855.79 526.08ZM865.58 551.46L866.6 551.43L857.68 529.35L856.7 529.38ZM866.6 551.43L867.53 554.83L858.59 532.65L857.68 529.35ZM867.53 554.83L868.54 554.8L859.57 532.62L858.59 532.65ZM868.54 554.8L869.55 554.77L860.55 532.59L859.57 532.62ZM869.55 554.77L870.48 558.15L861.46 535.89L860.55 532.59ZM870.48 558.15L871.49 558.12L862.43 535.86L861.46 535.89ZM871.49 558.12L872.5 558.09L863.41 535.83L862.43 535.86ZM872.5 558.09L873.43 561.48L864.32 539.12L863.41 535.83ZM873.43 561.48L874.44 561.45L865.29 539.09L864.32 539.12ZM874.44 561.45L875.45 561.42L866.27 539.06L865.29 539.09ZM875.45 561.42L876.46 561.39L867.25 539.03L866.27 539.06ZM876.46 561.39L877.39 564.77L868.15 542.32L867.25 539.03ZM877.39 564.77L878.4 564.73L869.13 542.29L868.15 542.32ZM878.4 564.73L879.41 564.7L870.1 542.26L869.13 542.29ZM879.41 564.7L880.41 564.67L871.08 542.23L870.1 542.26ZM880.41 564.67L881.42 564.64L872.06 542.2L871.08 542.23ZM881.42 564.64L882.34 568.02L872.95 545.48L872.06 542.2ZM882.34 568.02L883.35 567.99L873.93 545.45L872.95 545.48ZM883.35 567.99L884.36 567.96L874.9 545.42L873.93 545.45ZM884.36 567.96L885.37 567.93L875.88 545.4L874.9 545.42ZM885.37 567.93L886.37 567.89L876.86 545.37L875.88 545.4ZM886.37 567.89L887.38 567.86L877.83 545.34L876.86 545.37ZM887.38 567.86L888.39 567.83L878.81 545.31L877.83 545.34ZM888.39 567.83L889.39 567.8L879.78 545.28L878.81 545.31ZM889.39 567.8L890.31 571.17L880.67 548.56L879.78 545.28ZM890.31 571.17L891.32 571.14L881.65 548.53L880.67 548.56ZM891.32 571.14L892.32 571.11L882.62 548.5L881.65 548.53ZM892.32 571.11L893.33 571.08L883.6 548.47L882.62 548.5ZM893.33 571.08L894.33 571.05L884.57 548.44L883.6 548.47ZM894.33 571.05L895.34 571.02L885.54 548.41L884.57 548.44ZM895.34 571.02L896.35 570.99L886.52 548.38L885.54 548.41ZM896.35 570.99L897.35 570.96L887.49 548.35L886.52 548.38ZM897.35 570.96L898.36 570.93L888.46 548.33L887.49 548.35ZM898.36 570.93L899.27 574.29L889.35 551.6L888.46 548.33ZM899.27 574.29L900.27 574.26L890.32 551.57L889.35 551.6ZM900.27 574.26L901.28 574.23L891.3 551.54L890.32 551.57ZM901.28 574.23L902.28 574.2L892.27 551.51L891.3 551.54ZM902.28 574.2L903.29 574.17L893.24 551.48L892.27 551.51ZM903.29 574.17L904.29 574.14L894.22 551.45L893.24 551.48ZM904.29 574.14L905.29 574.1L895.19 551.42L894.22 551.45ZM905.29 574.1L906.3 574.07L896.16 551.39L895.19 551.42ZM906.3 574.07L907.3 574.04L897.13 551.36L896.16 551.39ZM907.3 574.04L908.31 574.01L898.1 551.34L897.13 551.36ZM908.31 574.01L909.31 573.98L899.08 551.31L898.1 551.34ZM909.31 573.98L910.31 573.95L900.05 551.28L899.08 551.31ZM910.31 573.95L911.32 573.92L901.02 551.25L900.05 551.28ZM911.32 573.92L912.32 573.89L901.99 551.22L901.02 551.25ZM912.32 573.89L913.32 573.86L902.96 551.19L901.99 551.22ZM913.32 573.86L914.33 573.83L903.94 551.16L902.96 551.19ZM914.33 573.83L915.33 573.8L904.91 551.13L903.94 551.16ZM915.33 573.8L916.33 573.77L905.88 551.1L904.91 551.13ZM916.33 573.77L917.34 573.73L906.85 551.08L905.88 551.1ZM917.34 573.73L918.34 573.7L907.82 551.05L906.85 551.08ZM918.34 573.7L919.34 573.67L908.79 551.02L907.82 551.05ZM919.34 573.67L920.35 573.64L909.76 550.99L908.79 551.02ZM920.35 573.64L921.35 573.61L910.73 550.96L909.76 550.99ZM921.35 573.61L922.35 573.58L911.71 550.93L910.73 550.96ZM922.35 573.58L923.35 573.55L912.68 550.9L911.71 550.93ZM923.35 573.55L924.36 573.52L913.65 550.87L912.68 550.9ZM924.36 573.52L925.36 573.49L914.62 550.84L913.65 550.87ZM925.36 573.49L926.36 573.46L915.59 550.82L914.62 550.84ZM926.36 573.46L927.36 573.43L916.56 550.79L915.59 550.82ZM927.36 573.43L928.36 573.4L917.53 550.76L916.56 550.79ZM928.36 573.4L929.37 573.36L918.5 550.73L917.53 550.76ZM929.37 573.36L930.37 573.33L919.47 550.7L918.5 550.73ZM930.37 573.33L931.37 573.3L920.44 550.67L919.47 550.7ZM931.37 573.3L932.37 573.27L921.41 550.64L920.44 550.67ZM932.37 573.27L933.37 573.24L922.38 550.61L921.41 550.64ZM933.37 573.24L934.37 573.21L923.35 550.59L922.38 550.61ZM934.37 573.21L935.38 573.18L924.32 550.56L923.35 550.59ZM935.38 573.18L936.38 573.15L925.29 550.53L924.32 550.56ZM936.38 573.15L937.38 573.12L926.26 550.5L925.29 550.53ZM937.38 573.12L938.38 573.09L927.23 550.47L926.26 550.5ZM938.38 573.09L939.38 573.06L928.2 550.44L927.23 550.47ZM939.38 573.06L940.38 573.03L929.17 550.41L928.2 550.44ZM940.38 573.03L941.38 573L930.14 550.38L929.17 550.41Z" fill="#00ffff" stroke="#00ffff" stroke-width="0.5" stroke-linejoin="round"/>
<g font-size="22.3" fill="#141414">
<text x="886.16" y="451.85">0.00</text>
<text x="887.84" y="394.81">0.02</text>
<text x="889.55" y="336.67">0.04</text>
<text x="891.28" y="277.42">0.06</text>
<text x="893.04" y="217.02">0.08</text>
<text x="894.83" y="155.43">0.10</text>
<text x="537" y="619.2" text-anchor="middle">300</text>
<text x="643" y="616.8" text-anchor="middle">400</text>
<text x="749" y="612.4" text-anchor="middle">500</text>
<text x="853.3" y="609.4" text-anchor="middle">600</text>
<text x="958" y="605.4" text-anchor="middle">700</text>
</g>
<text transform="translate(740 639.6) rotate(-2)" font-size="22.3" text-anchor="middle" fill="#141414">wavelength / nm</text>
<text transform="translate(959.5 296.5) rotate(-89)" font-size="22.4" text-anchor="middle" fill="#141414">absorbance</text>
<rect x="546" y="131" width="145.5" height="89" fill="#fff" stroke="#000" stroke-width="1.2"/>
<rect x="553.6" y="135" width="38.2" height="18.3" fill="#008080"/>
<text x="596.5" y="150.2" font-size="16.8" fill="#141414">531nm start</text>
<rect x="553.6" y="156.45" width="38.2" height="18.3" fill="#00ff00"/>
<text x="596.5" y="171.65" font-size="16.8" fill="#141414">531nm end</text>
<rect x="553.6" y="177.9" width="38.2" height="18.3" fill="#0000ff"/>
<text x="596.5" y="193.1" font-size="16.8" fill="#141414">478nm start</text>
<rect x="553.6" y="199.35" width="38.2" height="18.3" fill="#00ffff"/>
<text x="596.5" y="214.55" font-size="16.8" fill="#141414">478nm end</text>
</svg>
</body></html>
